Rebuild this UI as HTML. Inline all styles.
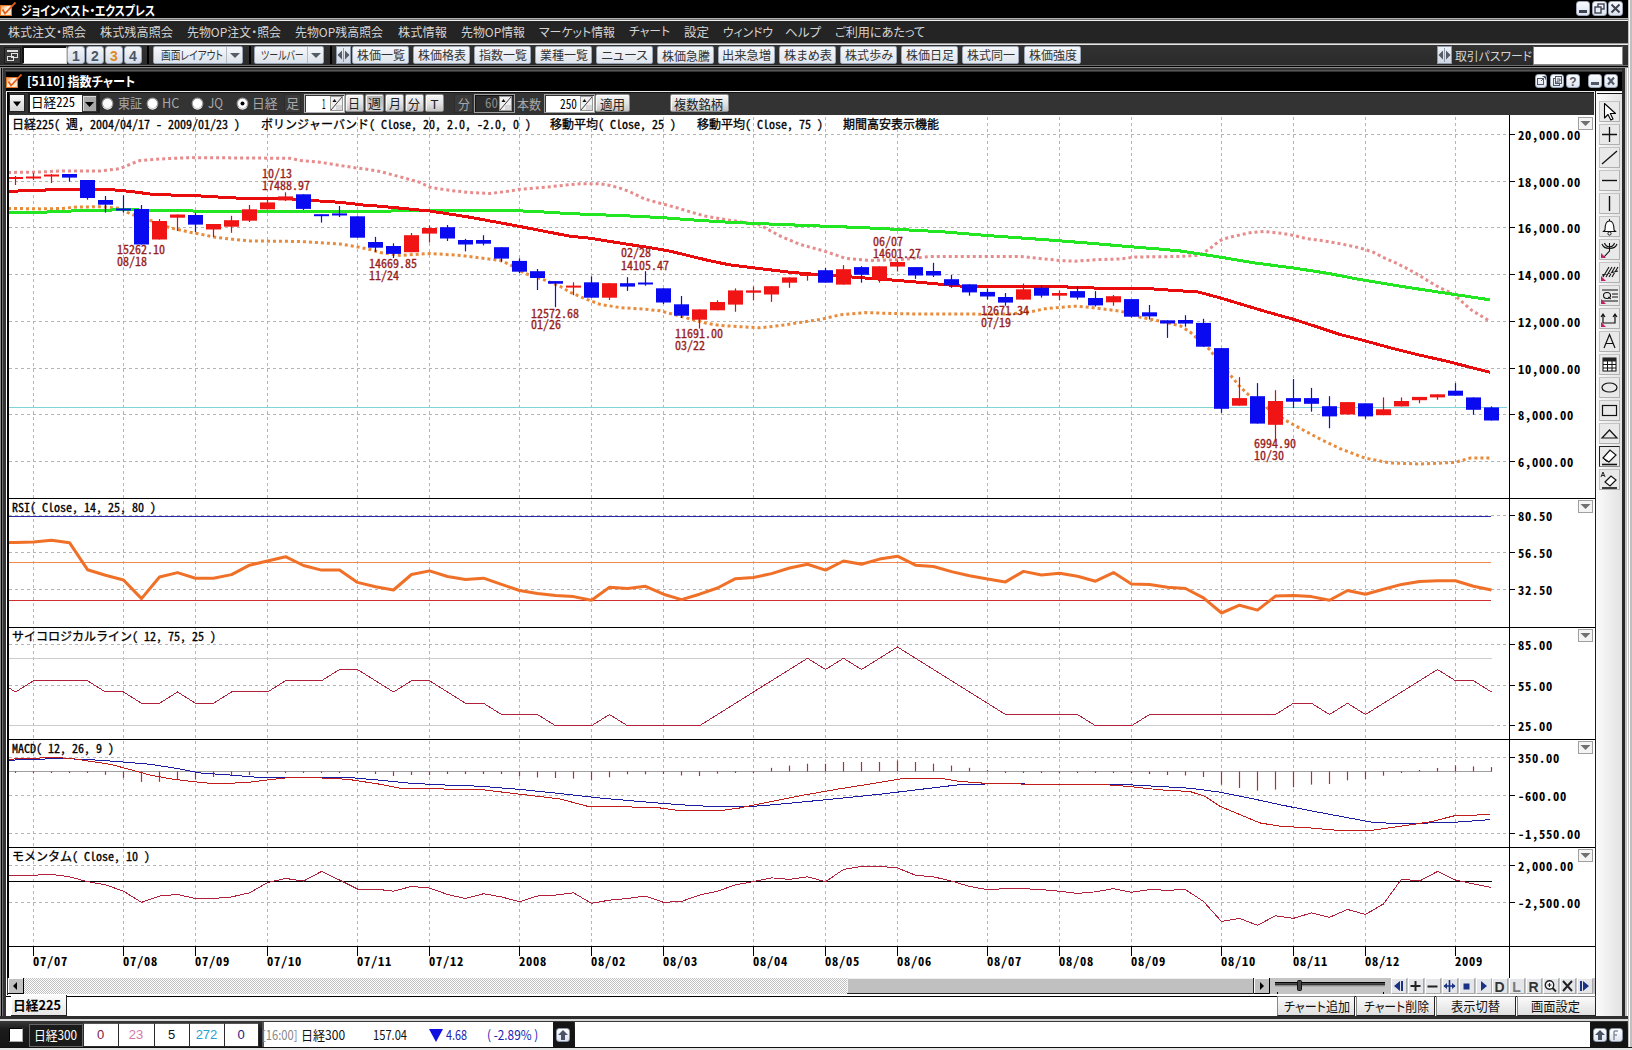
<!DOCTYPE html><html><head><meta charset="utf-8"><title>指数チャート</title><style>
*{margin:0;padding:0;box-sizing:border-box}
html,body{width:1632px;height:1050px;overflow:hidden;background:#c8c8c8}
body{position:relative;font-family:"Liberation Sans","Noto Sans CJK JP",sans-serif}
.r{position:absolute}
.t{position:absolute;white-space:nowrap;transform-origin:0 0;line-height:1;display:block}
.ui{font-family:"Noto Sans CJK JP","IPAGothic",sans-serif;font-size:12px;font-feature-settings:"palt";color:#d8d8d8}
.mg{font-family:"Noto Sans Mono CJK JP","IPAGothic",monospace;font-size:12px;color:#000}
svg{position:absolute;left:0;top:0}
</style></head><body>
<div class="r" style="left:0px;top:0px;width:1632px;height:1050px;background:#c8c8c8;"></div>
<div class="r" style="left:0px;top:0px;width:1628px;height:18px;background:#000;"></div>
<div class="r" style="left:0px;top:18px;width:1628px;height:1px;background:#b0b0b0;"></div>
<div class="r" style="left:0px;top:19px;width:1628px;height:1px;background:#707070;"></div>
<div class="r" style="left:0px;top:20px;width:1628px;height:1px;background:#f0f0f0;"></div>
<div class="r" style="left:0px;top:21px;width:1628px;height:22px;background:#242424;"></div>
<div class="r" style="left:0px;top:43px;width:1628px;height:1px;background:#9a9a9a;"></div>
<div class="r" style="left:0px;top:44px;width:1628px;height:1px;background:#e8e8e8;"></div>
<div class="r" style="left:0px;top:45px;width:1628px;height:21px;background:linear-gradient(#323232,#2a2a2a);"></div>
<div class="r" style="left:0px;top:65px;width:1628px;height:1px;background:#6a6a6a;"></div>
<div class="r" style="left:0px;top:66px;width:1628px;height:1px;background:#000;"></div>
<div class="r" style="left:0px;top:67px;width:1628px;height:1px;background:#8a8a8a;"></div>
<div class="r" style="left:1628px;top:0px;width:4px;height:1050px;background:#c0c0c0;"></div>
<div class="r" style="left:1629px;top:0px;width:1px;height:1050px;background:#fafafa;"></div>
<div class="r" style="left:0px;top:68px;width:1625px;height:951px;background:#333;"></div>
<div class="r" style="left:0px;top:68px;width:1px;height:951px;background:#909090;"></div>
<div class="r" style="left:1px;top:68px;width:1px;height:951px;background:#000;"></div>
<div class="r" style="left:2px;top:68px;width:1px;height:951px;background:#707070;"></div>
<div class="r" style="left:1625px;top:68px;width:2px;height:951px;background:#c4c4c4;"></div>
<div class="r" style="left:1627px;top:68px;width:1px;height:951px;background:#fff;"></div>
<div class="r" style="left:1628px;top:68px;width:1px;height:951px;background:#c4c4c4;"></div>
<div class="r" style="left:1629px;top:68px;width:1px;height:951px;background:#fff;"></div>
<div class="r" style="left:6px;top:91px;width:1px;height:925px;background:#fff;"></div>
<div class="r" style="left:5px;top:70px;width:1618px;height:1px;background:#555;"></div>
<div class="r" style="left:6px;top:72px;width:1616px;height:19px;background:#000;"></div>
<div class="r" style="left:6px;top:91px;width:1616px;height:1px;background:#e8e8e8;"></div>
<div class="r" style="left:8px;top:92px;width:1586px;height:23px;background:#333;"></div>
<div class="r" style="left:8px;top:92px;width:1586px;height:1px;background:#111;"></div>
<div class="r" style="left:1594px;top:92px;width:1px;height:23px;background:#f4f4f4;"></div>
<div class="r" style="left:0px;top:1016px;width:1628px;height:3px;background:#2e2e2e;"></div>
<div class="r" style="left:0px;top:1019px;width:1628px;height:2px;background:#d8d8d8;"></div>
<div class="r" style="left:0px;top:1021px;width:1628px;height:27px;background:linear-gradient(#3a3a3a,#1c1c1c 30%,#141414);"></div>
<div class="r" style="left:0px;top:1047px;width:1632px;height:1px;background:#111;"></div>
<div class="r" style="left:0px;top:1048px;width:1632px;height:2px;background:#e4e4e4;"></div>
<svg style="left:0px;top:2px" width="18" height="14" viewBox="0 0 18 14"><defs><linearGradient id="cg0" x1="0" y1="0" x2="1" y2="1"><stop offset="0" stop-color="#f08a3a"/><stop offset="0.45" stop-color="#fff4e8"/><stop offset="1" stop-color="#ffd9b0"/></linearGradient></defs><rect x="0.5" y="3.5" width="11" height="10" fill="url(#cg0)" stroke="#e07828"/><path d="M2.5 7.5 L5 11.5 L15.5 0.5" fill="none" stroke="#e8601a" stroke-width="1.8"/></svg>
<span class="t ui" style="left:21.00px;top:2.50px;transform:scaleX(0.8284);font-weight:bold;color:#fff;font-size:13px">ジョインベスト・エクスプレス</span>
<div class="r" style="left:1576px;top:1px;width:14px;height:15px;background:linear-gradient(#f8faff,#dde3ee);border-radius:3px;border:1px solid #9aa4b4"></div>
<svg style="left:1576px;top:1px" width="14" height="15" viewBox="0 0 14 15"><rect x="3" y="9" width="8" height="3" fill="#3c4250"/></svg>
<div class="r" style="left:1592px;top:1px;width:15px;height:15px;background:linear-gradient(#f8faff,#dde3ee);border-radius:3px;border:1px solid #9aa4b4"></div>
<svg style="left:1592px;top:1px" width="15" height="15" viewBox="0 0 15 15"><rect x="6" y="3" width="6" height="5" fill="none" stroke="#3c4250" stroke-width="1.4"/><rect x="3" y="6" width="6" height="6" fill="#e8ecf4" stroke="#3c4250" stroke-width="1.4"/></svg>
<div class="r" style="left:1608px;top:1px;width:15px;height:15px;background:linear-gradient(#f8faff,#dde3ee);border-radius:3px;border:1px solid #9aa4b4"></div>
<svg style="left:1608px;top:1px" width="15" height="15" viewBox="0 0 15 15"><path d="M3.5 3.5 L11.5 11.5 M11.5 3.5 L3.5 11.5" stroke="#3c4250" stroke-width="2"/></svg>
<span class="t ui" style="left:8.00px;top:25.50px;transform:scaleX(1.0000);color:#d4d4d4">株式注文・照会</span>
<span class="t ui" style="left:100.00px;top:25.50px;transform:scaleX(1.0139);color:#d4d4d4">株式残高照会</span>
<span class="t ui" style="left:187.00px;top:25.50px;transform:scaleX(0.9947);color:#d4d4d4">先物OP注文・照会</span>
<span class="t ui" style="left:295.00px;top:25.50px;transform:scaleX(0.9943);color:#d4d4d4">先物OP残高照会</span>
<span class="t ui" style="left:398.00px;top:25.50px;transform:scaleX(1.0210);color:#d4d4d4">株式情報</span>
<span class="t ui" style="left:461.00px;top:25.50px;transform:scaleX(0.9922);color:#d4d4d4">先物OP情報</span>
<span class="t ui" style="left:539.00px;top:25.50px;transform:scaleX(0.9939);color:#d4d4d4">マーケット情報</span>
<span class="t ui" style="left:629.00px;top:25.00px;transform:scaleX(0.9858);color:#d4d4d4">チャート</span>
<span class="t ui" style="left:684.00px;top:25.50px;transform:scaleX(1.0427);color:#d4d4d4">設定</span>
<span class="t ui" style="left:722.96px;top:25.50px;transform:scaleX(0.9809);color:#d4d4d4">ウィンドウ</span>
<span class="t ui" style="left:784.94px;top:25.50px;transform:scaleX(1.0490);color:#d4d4d4">ヘルプ</span>
<span class="t ui" style="left:834.98px;top:25.50px;transform:scaleX(1.0091);color:#d4d4d4">ご利用にあたって</span>
<div class="r" style="left:4px;top:47px;width:17px;height:17px;background:#3a3a3a;border:1px solid #1a1a1a"></div>
<svg style="left:4px;top:47px" width="17" height="17" viewBox="0 0 17 17"><rect x="3" y="3" width="11" height="2" fill="#e0e0e0"/><rect x="7.5" y="6.5" width="6" height="4" fill="none" stroke="#e0e0e0"/><rect x="3.5" y="9.5" width="6" height="4" fill="none" stroke="#e0e0e0"/></svg>
<div class="r" style="left:22px;top:46px;width:45px;height:18px;background:#fff;border:1px solid #d0d0d0;border-top:2px solid #111;border-left:2px solid #111"></div>
<div class="r" style="left:67px;top:46px;width:18px;height:18px;background:linear-gradient(#f4f7fb,#d6dde8);border-radius:3px;border:1px solid #9aa6b6"></div>
<span class="t" style="left:67px;top:48px;width:18px;text-align:center;font:bold 14px 'Liberation Sans',sans-serif;color:#4a5666">1</span>
<div class="r" style="left:86px;top:46px;width:18px;height:18px;background:linear-gradient(#f4f7fb,#d6dde8);border-radius:3px;border:1px solid #9aa6b6"></div>
<span class="t" style="left:86px;top:48px;width:18px;text-align:center;font:bold 14px 'Liberation Sans',sans-serif;color:#4a5666">2</span>
<div class="r" style="left:105px;top:46px;width:18px;height:18px;background:linear-gradient(#f4f7fb,#d6dde8);border-radius:3px;border:1px solid #9aa6b6"></div>
<span class="t" style="left:105px;top:48px;width:18px;text-align:center;font:bold 14px 'Liberation Sans',sans-serif;color:#e08a1e">3</span>
<div class="r" style="left:124px;top:46px;width:18px;height:18px;background:linear-gradient(#f4f7fb,#d6dde8);border-radius:3px;border:1px solid #9aa6b6"></div>
<span class="t" style="left:124px;top:48px;width:18px;text-align:center;font:bold 14px 'Liberation Sans',sans-serif;color:#4a5666">4</span>
<div class="r" style="left:147px;top:46px;width:2px;height:18px;background:#000;"></div>
<div class="r" style="left:249px;top:46px;width:2px;height:18px;background:#000;"></div>
<div class="r" style="left:330px;top:46px;width:2px;height:18px;background:#000;"></div>
<div class="r" style="left:153px;top:46px;width:90px;height:18px;background:linear-gradient(#f6f8fb,#dde3ea);border:1px solid #9aa6b6;border-radius:2px"></div>
<div class="r" style="left:226px;top:47px;width:1px;height:16px;background:#b4bcc8;"></div>
<svg style="left:227px;top:46px" width="16" height="18" viewBox="0 0 16 18"><path d="M3 7 L13 7 L8 12 Z" fill="#555c66"/></svg>
<span class="t ui" style="left:161.00px;top:49.00px;transform:scaleX(0.8112);color:#333">画面レイアウト</span>
<div class="r" style="left:254px;top:46px;width:70px;height:18px;background:linear-gradient(#f6f8fb,#dde3ea);border:1px solid #9aa6b6;border-radius:2px"></div>
<div class="r" style="left:307px;top:47px;width:1px;height:16px;background:#b4bcc8;"></div>
<svg style="left:308px;top:46px" width="16" height="18" viewBox="0 0 16 18"><path d="M3 7 L13 7 L8 12 Z" fill="#555c66"/></svg>
<span class="t ui" style="left:261.07px;top:49.00px;transform:scaleX(0.7465);color:#333">ツールバー</span>
<div class="r" style="left:336px;top:46px;width:15px;height:18px;background:linear-gradient(#eef2f8,#cfd7e3);border:1px solid #8e9aac"></div>
<svg style="left:336px;top:46px" width="15" height="18" viewBox="0 0 15 18"><path d="M1.5 9 L6 4.5 L6 13.5 Z M13.5 9 L9 4.5 L9 13.5 Z" fill="#555c66"/><rect x="7" y="2" width="1" height="14" fill="#8e9aac"/></svg>
<div class="r" style="left:352px;top:46px;width:57px;height:18px;background:linear-gradient(#f6f8fb,#dfe4ec);border:1px solid #9aa6b6;border-radius:2px"></div>
<span class="t ui" style="left:357.00px;top:49.00px;transform:scaleX(1.0001);color:#333">株価一覧</span>
<div class="r" style="left:413px;top:46px;width:57px;height:18px;background:linear-gradient(#f6f8fb,#dfe4ec);border:1px solid #9aa6b6;border-radius:2px"></div>
<span class="t ui" style="left:418.00px;top:49.00px;transform:scaleX(1.0001);color:#333">株価格表</span>
<div class="r" style="left:474px;top:46px;width:57px;height:18px;background:linear-gradient(#f6f8fb,#dfe4ec);border:1px solid #9aa6b6;border-radius:2px"></div>
<span class="t ui" style="left:479.00px;top:49.00px;transform:scaleX(1.0001);color:#333">指数一覧</span>
<div class="r" style="left:535px;top:46px;width:57px;height:18px;background:linear-gradient(#f6f8fb,#dfe4ec);border:1px solid #9aa6b6;border-radius:2px"></div>
<span class="t ui" style="left:540.00px;top:49.00px;transform:scaleX(1.0001);color:#333">業種一覧</span>
<div class="r" style="left:596px;top:46px;width:57px;height:18px;background:linear-gradient(#f6f8fb,#dfe4ec);border:1px solid #9aa6b6;border-radius:2px"></div>
<span class="t ui" style="left:601.00px;top:49.00px;transform:scaleX(1.0871);color:#333">ニュース</span>
<div class="r" style="left:657px;top:46px;width:57px;height:18px;background:linear-gradient(#f6f8fb,#dfe4ec);border:1px solid #9aa6b6;border-radius:2px"></div>
<span class="t ui" style="left:662.00px;top:49.50px;transform:scaleX(1.0001);color:#333">株価急騰</span>
<div class="r" style="left:718px;top:46px;width:57px;height:18px;background:linear-gradient(#f6f8fb,#dfe4ec);border:1px solid #9aa6b6;border-radius:2px"></div>
<span class="t ui" style="left:721.96px;top:49.00px;transform:scaleX(1.0223);color:#333">出来急増</span>
<div class="r" style="left:779px;top:46px;width:57px;height:18px;background:linear-gradient(#f6f8fb,#dfe4ec);border:1px solid #9aa6b6;border-radius:2px"></div>
<span class="t ui" style="left:784.00px;top:49.00px;transform:scaleX(1.0210);color:#333">株まめ表</span>
<div class="r" style="left:840px;top:46px;width:57px;height:18px;background:linear-gradient(#f6f8fb,#dfe4ec);border:1px solid #9aa6b6;border-radius:2px"></div>
<span class="t ui" style="left:845.00px;top:49.00px;transform:scaleX(1.0057);color:#333">株式歩み</span>
<div class="r" style="left:901px;top:46px;width:57px;height:18px;background:linear-gradient(#f6f8fb,#dfe4ec);border:1px solid #9aa6b6;border-radius:2px"></div>
<span class="t ui" style="left:906.00px;top:49.00px;transform:scaleX(1.0001);color:#333">株価日足</span>
<div class="r" style="left:962px;top:46px;width:57px;height:18px;background:linear-gradient(#f6f8fb,#dfe4ec);border:1px solid #9aa6b6;border-radius:2px"></div>
<span class="t ui" style="left:967.00px;top:49.00px;transform:scaleX(1.0001);color:#333">株式同一</span>
<div class="r" style="left:1024px;top:46px;width:57px;height:18px;background:linear-gradient(#f6f8fb,#dfe4ec);border:1px solid #9aa6b6;border-radius:2px"></div>
<span class="t ui" style="left:1029.00px;top:49.00px;transform:scaleX(1.0001);color:#333">株価強度</span>
<div class="r" style="left:1437px;top:46px;width:15px;height:18px;background:linear-gradient(#eef2f8,#cfd7e3);border:1px solid #8e9aac"></div>
<svg style="left:1437px;top:46px" width="15" height="18" viewBox="0 0 15 18"><path d="M1.5 9 L6 4.5 L6 13.5 Z M13.5 9 L9 4.5 L9 13.5 Z" fill="#555c66"/><rect x="7" y="2" width="1" height="14" fill="#8e9aac"/></svg>
<span class="t ui" style="left:1455.00px;top:49.50px;transform:scaleX(0.9862);color:#d4d4d4">取引パスワード</span>
<div class="r" style="left:1533px;top:46px;width:90px;height:19px;background:#fff;border:1px solid #888;border-top-color:#444"></div>
<svg style="left:6px;top:74px" width="18" height="14" viewBox="0 0 18 14"><defs><linearGradient id="cg6" x1="0" y1="0" x2="1" y2="1"><stop offset="0" stop-color="#f08a3a"/><stop offset="0.45" stop-color="#fff4e8"/><stop offset="1" stop-color="#ffd9b0"/></linearGradient></defs><rect x="0.5" y="3.5" width="11" height="10" fill="url(#cg6)" stroke="#e07828"/><path d="M2.5 7.5 L5 11.5 L15.5 0.5" fill="none" stroke="#e8601a" stroke-width="1.8"/></svg>
<span class="t ui" style="left:26.97px;top:73.50px;transform:scaleX(0.9320);font-weight:bold;color:#fff;font-size:13px">[5110] 指数チャート</span>
<div class="r" style="left:1535px;top:74px;width:12px;height:14px;background:linear-gradient(#fafcff,#dfe5ef);border-radius:3px;border:1px solid #98a2b2"></div>
<svg style="left:1535px;top:74px" width="12" height="14" viewBox="0 0 12 14"><rect x="2.5" y="4.5" width="6" height="6" fill="none" stroke="#505868"/><path d="M6 7 L10 3 M7.5 2.5 L10.5 2.5 L10.5 5.5" fill="none" stroke="#505868"/></svg>
<div class="r" style="left:1550px;top:74px;width:14px;height:14px;background:linear-gradient(#fafcff,#dfe5ef);border-radius:3px;border:1px solid #98a2b2"></div>
<svg style="left:1550px;top:74px" width="14" height="14" viewBox="0 0 14 14"><rect x="3.5" y="4.5" width="6" height="7" fill="none" stroke="#505868"/><rect x="5.5" y="2.5" width="6" height="7" fill="#eef2f8" stroke="#505868"/><path d="M7 5 h3 v2 h-3 v2 h3" fill="none" stroke="#505868"/></svg>
<div class="r" style="left:1566px;top:74px;width:14px;height:14px;background:linear-gradient(#fafcff,#dfe5ef);border-radius:3px;border:1px solid #98a2b2"></div>
<svg style="left:1566px;top:74px" width="14" height="14" viewBox="0 0 14 14"><text x="7" y="12" text-anchor="middle" font-family="Liberation Sans" font-weight="bold" font-size="12" fill="#505868">?</text></svg>
<div class="r" style="left:1588px;top:74px;width:14px;height:14px;background:linear-gradient(#fafcff,#dfe5ef);border-radius:3px;border:1px solid #98a2b2"></div>
<svg style="left:1588px;top:74px" width="14" height="14" viewBox="0 0 14 14"><rect x="3" y="8" width="8" height="3" fill="#505868"/></svg>
<div class="r" style="left:1604px;top:74px;width:14px;height:14px;background:linear-gradient(#fafcff,#dfe5ef);border-radius:3px;border:1px solid #98a2b2"></div>
<svg style="left:1604px;top:74px" width="14" height="14" viewBox="0 0 14 14"><path d="M4 3.5 L10 10.5 M10 3.5 L4 10.5" stroke="#505868" stroke-width="2"/></svg>
<div class="r" style="left:9px;top:94px;width:16px;height:18px;background:linear-gradient(#fafafa,#d2d2d2);border:1px solid #222"></div>
<svg style="left:9px;top:94px" width="16" height="18" viewBox="0 0 16 18"><path d="M4 7.5 L12 7.5 L8 12.5 Z" fill="#000"/></svg>
<div class="r" style="left:28px;top:93px;width:72px;height:20px;background:#1c1c1c;"></div>
<div class="r" style="left:30px;top:95px;width:53px;height:17px;background:#fff;"></div>
<span class="t mg" style="left:31.00px;top:95.00px;transform:scaleX(0.9682);font-size:13px">日経225</span>
<div class="r" style="left:82px;top:95px;width:15px;height:17px;background:#a8a8a8;border:1px solid #333;box-shadow:inset 1px 1px 0 #d8d8d8"></div>
<svg style="left:82px;top:95px" width="15" height="17" viewBox="0 0 15 17"><path d="M3 7 L12 7 L7.5 12 Z" fill="#000"/></svg>
<svg style="left:101px;top:97px" width="13" height="13" viewBox="0 0 13 13"><circle cx="6.5" cy="6.5" r="5.3" fill="#fff" stroke="#999" stroke-width="1.2"/><path d="M2.4 10.2 A5.3 5.3 0 0 0 10.6 10.2" fill="none" stroke="#e8e8e8" stroke-width="1.2"/></svg>
<span class="t ui" style="left:118.00px;top:95.50px;transform:scaleX(0.9243);color:#a8a8a8;font-size:13px">東証</span>
<svg style="left:146px;top:97px" width="13" height="13" viewBox="0 0 13 13"><circle cx="6.5" cy="6.5" r="5.3" fill="#fff" stroke="#999" stroke-width="1.2"/><path d="M2.4 10.2 A5.3 5.3 0 0 0 10.6 10.2" fill="none" stroke="#e8e8e8" stroke-width="1.2"/></svg>
<span class="t ui" style="left:161.85px;top:96.00px;transform:scaleX(0.9742);color:#a8a8a8;font-size:13px">HC</span>
<svg style="left:191px;top:97px" width="13" height="13" viewBox="0 0 13 13"><circle cx="6.5" cy="6.5" r="5.3" fill="#fff" stroke="#999" stroke-width="1.2"/><path d="M2.4 10.2 A5.3 5.3 0 0 0 10.6 10.2" fill="none" stroke="#e8e8e8" stroke-width="1.2"/></svg>
<span class="t ui" style="left:208.00px;top:95.50px;transform:scaleX(0.9077);color:#a8a8a8;font-size:13px">JQ</span>
<svg style="left:236px;top:97px" width="13" height="13" viewBox="0 0 13 13"><circle cx="6.5" cy="6.5" r="5.3" fill="#fff" stroke="#999" stroke-width="1.2"/><path d="M2.4 10.2 A5.3 5.3 0 0 0 10.6 10.2" fill="none" stroke="#e8e8e8" stroke-width="1.2"/><circle cx="6.5" cy="6.5" r="2" fill="#000"/></svg>
<span class="t ui" style="left:251.68px;top:95.50px;transform:scaleX(0.9791);color:#a8a8a8;font-size:13px">日経</span>
<div class="r" style="left:284px;top:94px;width:17px;height:19px;background:#3a3a3a;border:1px solid #2c2c2c"></div>
<span class="t ui" style="left:286.00px;top:96.00px;transform:scaleX(0.9988);color:#a8a8a8;font-size:13px">足</span>
<div class="r" style="left:304px;top:94px;width:41px;height:19px;background:#fff;border:1px solid #b0b0b0;box-shadow:inset 1px 1px 0 #333"></div>
<span class="t mg" style="left:322.00px;top:96.50px;transform:scaleX(0.5384);font-size:13px">1</span>
<svg style="left:330px;top:96px" width="13" height="15" viewBox="0 0 13 15"><rect x="0.5" y="0.5" width="12" height="14" fill="#f0f0f0" stroke="#999"/><path d="M1 14 L12 1" stroke="#444"/><path d="M2.5 6 L4.5 3 L6.5 6 Z" fill="#111"/><rect x="6" y="9" width="6" height="5" fill="#d8d8d8"/></svg>
<div class="r" style="left:345px;top:94px;width:19px;height:18px;background:linear-gradient(#f6f6f6,#e4e4e4 50%,#c4c4c4);border:1px solid #8a8a8a;border-radius:2px;box-shadow:inset 1px 1px 0 rgba(255,255,255,.8)"></div>
<span class="t ui" style="left:348.00px;top:95.50px;transform:scaleX(0.9220);color:#222;font-size:13px">日</span>
<div class="r" style="left:365px;top:94px;width:19px;height:18px;background:linear-gradient(#b4b4b4,#d4d4d4);border:1px solid #8a8a8a;border-radius:2px;box-shadow:inset 1px 1px 0 rgba(255,255,255,.8)"></div>
<span class="t ui" style="left:368.00px;top:96.00px;transform:scaleX(1.0058);color:#222;font-size:13px">週</span>
<div class="r" style="left:385px;top:94px;width:19px;height:18px;background:linear-gradient(#f6f6f6,#e4e4e4 50%,#c4c4c4);border:1px solid #8a8a8a;border-radius:2px;box-shadow:inset 1px 1px 0 rgba(255,255,255,.8)"></div>
<span class="t ui" style="left:389.00px;top:96.00px;transform:scaleX(0.9220);color:#222;font-size:13px">月</span>
<div class="r" style="left:405px;top:94px;width:19px;height:18px;background:linear-gradient(#f6f6f6,#e4e4e4 50%,#c4c4c4);border:1px solid #8a8a8a;border-radius:2px;box-shadow:inset 1px 1px 0 rgba(255,255,255,.8)"></div>
<span class="t ui" style="left:408.00px;top:96.50px;transform:scaleX(0.9220);color:#222;font-size:13px">分</span>
<div class="r" style="left:425px;top:94px;width:19px;height:18px;background:linear-gradient(#f6f6f6,#e4e4e4 50%,#c4c4c4);border:1px solid #8a8a8a;border-radius:2px;box-shadow:inset 1px 1px 0 rgba(255,255,255,.8)"></div>
<span class="t" style="left:425px;top:97px;width:19px;text-align:center;font:13px 'Liberation Sans',sans-serif;color:#222">T</span>
<div class="r" style="left:454px;top:94px;width:19px;height:19px;background:#3a3a3a;border:1px solid #2c2c2c"></div>
<span class="t ui" style="left:458.00px;top:97.00px;transform:scaleX(0.9156);color:#a8a8a8;font-size:13px">分</span>
<div class="r" style="left:474px;top:94px;width:41px;height:19px;background:#2c2c2c;border:1px solid #a0a0a0;box-shadow:inset 1px 1px 0 #111"></div>
<span class="t mg" style="left:485.00px;top:96.00px;transform:scaleX(1.0000);color:#8a8a8a;font-size:13px">60</span>
<svg style="left:499px;top:96px" width="13" height="15" viewBox="0 0 13 15"><rect x="0.5" y="0.5" width="12" height="14" fill="#f0f0f0" stroke="#999"/><path d="M1 14 L12 1" stroke="#444"/><path d="M2.5 6 L4.5 3 L6.5 6 Z" fill="#111"/><rect x="6" y="9" width="6" height="5" fill="#d8d8d8"/></svg>
<span class="t ui" style="left:517.00px;top:96.50px;transform:scaleX(0.9225);color:#a8a8a8;font-size:13px">本数</span>
<div class="r" style="left:544px;top:94px;width:51px;height:19px;background:#fff;border:1px solid #a0a0a0;box-shadow:inset 1px 1px 0 #333"></div>
<span class="t mg" style="left:560.00px;top:96.50px;transform:scaleX(0.8688);font-size:13px">250</span>
<svg style="left:580px;top:96px" width="13" height="15" viewBox="0 0 13 15"><rect x="0.5" y="0.5" width="12" height="14" fill="#f0f0f0" stroke="#999"/><path d="M1 14 L12 1" stroke="#444"/><path d="M2.5 6 L4.5 3 L6.5 6 Z" fill="#111"/><rect x="6" y="9" width="6" height="5" fill="#d8d8d8"/></svg>
<div class="r" style="left:595px;top:94px;width:35px;height:18px;background:linear-gradient(#f6f6f6,#e4e4e4 50%,#c4c4c4);border:1px solid #8a8a8a;border-radius:2px;box-shadow:inset 1px 1px 0 rgba(255,255,255,.8)"></div>
<span class="t ui" style="left:600.00px;top:96.50px;transform:scaleX(0.9644);color:#222;font-size:13px">適用</span>
<div class="r" style="left:670px;top:94px;width:59px;height:18px;background:linear-gradient(#f6f6f6,#e4e4e4 50%,#c4c4c4);border:1px solid #8a8a8a;border-radius:2px;box-shadow:inset 1px 1px 0 rgba(255,255,255,.8)"></div>
<span class="t ui" style="left:674.00px;top:96.50px;transform:scaleX(0.9420);color:#222;font-size:13px">複数銘柄</span>
<div class="r" style="left:8px;top:115px;width:1587px;height:863px;background:#fff;"></div>
<svg width="1632" height="1050" viewBox="0 0 1632 1050"><style>.lb{font-family:"Noto Sans Mono CJK JP","IPAGothic",monospace;font-size:12px;fill:#981c1c;stroke:#981c1c;stroke-width:0.3px}.ax{font-family:"Noto Sans Mono CJK JP","IPAGothic",monospace;font-size:12.5px;font-weight:bold;fill:#000;letter-spacing:0.75px}.hd{font-family:"Noto Sans Mono CJK JP","IPAGothic",monospace;font-size:12px;fill:#000;stroke:#000;stroke-width:0.3px}</style><line x1="33.5" y1="117" x2="33.5" y2="946" stroke="#b4b4b4" stroke-width="1" stroke-dasharray="3 3"/><line x1="123.5" y1="117" x2="123.5" y2="946" stroke="#b4b4b4" stroke-width="1" stroke-dasharray="3 3"/><line x1="195.5" y1="117" x2="195.5" y2="946" stroke="#b4b4b4" stroke-width="1" stroke-dasharray="3 3"/><line x1="267.5" y1="117" x2="267.5" y2="946" stroke="#b4b4b4" stroke-width="1" stroke-dasharray="3 3"/><line x1="357.5" y1="117" x2="357.5" y2="946" stroke="#b4b4b4" stroke-width="1" stroke-dasharray="3 3"/><line x1="429.5" y1="117" x2="429.5" y2="946" stroke="#b4b4b4" stroke-width="1" stroke-dasharray="3 3"/><line x1="519.5" y1="117" x2="519.5" y2="946" stroke="#b4b4b4" stroke-width="1" stroke-dasharray="3 3"/><line x1="591.5" y1="117" x2="591.5" y2="946" stroke="#b4b4b4" stroke-width="1" stroke-dasharray="3 3"/><line x1="663.5" y1="117" x2="663.5" y2="946" stroke="#b4b4b4" stroke-width="1" stroke-dasharray="3 3"/><line x1="753.5" y1="117" x2="753.5" y2="946" stroke="#b4b4b4" stroke-width="1" stroke-dasharray="3 3"/><line x1="825.5" y1="117" x2="825.5" y2="946" stroke="#b4b4b4" stroke-width="1" stroke-dasharray="3 3"/><line x1="897.5" y1="117" x2="897.5" y2="946" stroke="#b4b4b4" stroke-width="1" stroke-dasharray="3 3"/><line x1="987.5" y1="117" x2="987.5" y2="946" stroke="#b4b4b4" stroke-width="1" stroke-dasharray="3 3"/><line x1="1059.5" y1="117" x2="1059.5" y2="946" stroke="#b4b4b4" stroke-width="1" stroke-dasharray="3 3"/><line x1="1131.5" y1="117" x2="1131.5" y2="946" stroke="#b4b4b4" stroke-width="1" stroke-dasharray="3 3"/><line x1="1221.5" y1="117" x2="1221.5" y2="946" stroke="#b4b4b4" stroke-width="1" stroke-dasharray="3 3"/><line x1="1293.5" y1="117" x2="1293.5" y2="946" stroke="#b4b4b4" stroke-width="1" stroke-dasharray="3 3"/><line x1="1365.5" y1="117" x2="1365.5" y2="946" stroke="#b4b4b4" stroke-width="1" stroke-dasharray="3 3"/><line x1="1455.5" y1="117" x2="1455.5" y2="946" stroke="#b4b4b4" stroke-width="1" stroke-dasharray="3 3"/><line x1="9" y1="134.5" x2="1507" y2="134.5" stroke="#b4b4b4" stroke-width="1" stroke-dasharray="3 3"/><line x1="9" y1="181.5" x2="1507" y2="181.5" stroke="#b4b4b4" stroke-width="1" stroke-dasharray="3 3"/><line x1="9" y1="227.5" x2="1507" y2="227.5" stroke="#b4b4b4" stroke-width="1" stroke-dasharray="3 3"/><line x1="9" y1="274.5" x2="1507" y2="274.5" stroke="#b4b4b4" stroke-width="1" stroke-dasharray="3 3"/><line x1="9" y1="321.5" x2="1507" y2="321.5" stroke="#b4b4b4" stroke-width="1" stroke-dasharray="3 3"/><line x1="9" y1="368.5" x2="1507" y2="368.5" stroke="#b4b4b4" stroke-width="1" stroke-dasharray="3 3"/><line x1="9" y1="414.5" x2="1507" y2="414.5" stroke="#b4b4b4" stroke-width="1" stroke-dasharray="3 3"/><line x1="9" y1="461.5" x2="1507" y2="461.5" stroke="#b4b4b4" stroke-width="1" stroke-dasharray="3 3"/><line x1="9" y1="407.5" x2="1507" y2="407.5" stroke="#7fd4d8" stroke-width="1"/><polyline points="8.00,172.50 40.00,172.00 60.00,171.00 100.00,171.00 120.00,168.70 130.00,164.30 140.00,160.50 160.00,159.00 190.00,157.60 290.00,158.30 300.00,160.40 320.00,162.30 340.00,165.40 355.00,167.80 370.00,169.70 380.00,171.50 400.00,176.80 420.00,182.40 430.00,187.30 450.00,190.40 470.00,192.50 490.00,193.50 510.00,191.00 520.00,189.20 545.00,187.30 570.00,184.60 580.00,183.80 600.00,183.80 610.00,185.40 620.00,188.10 630.00,191.80 645.00,199.10 660.00,203.20 675.00,207.20 690.00,211.80 705.00,216.10 720.00,218.60 740.00,221.80 760.00,225.00 780.00,236.00 800.00,244.40 825.00,251.30 845.00,258.20 870.00,260.50 900.00,259.70 930.00,256.50 1020.00,256.40 1045.00,259.00 1060.00,260.50 1075.00,261.30 1095.00,259.70 1120.00,259.00 1135.00,257.00 1180.00,256.50 1198.60,255.30 1208.50,249.70 1218.40,241.70 1222.70,239.20 1234.50,236.10 1251.80,232.40 1264.20,231.50 1282.70,233.40 1293.90,235.50 1306.30,238.60 1324.80,241.00 1342.10,244.10 1360.00,247.90 1373.00,252.10 1384.30,257.90 1395.70,262.90 1407.10,268.60 1418.60,275.00 1430.00,282.10 1440.00,287.90 1451.40,292.90 1460.00,300.00 1471.40,310.00 1482.90,317.10 1490.00,321.40" fill="none" stroke="#e68c8c" stroke-width="3" stroke-linejoin="round" stroke-dasharray="3 3" /><polyline points="8.00,208.40 42.00,208.90 62.00,208.40 78.00,207.00 100.00,206.80 120.00,208.40 130.00,213.70 150.00,220.40 170.00,227.80 190.00,232.20 200.00,234.10 215.00,237.20 230.00,239.00 250.00,240.90 300.00,241.50 320.00,242.70 340.00,244.00 355.00,246.40 370.00,249.50 380.00,252.50 400.00,255.40 430.00,253.50 460.00,255.40 480.00,257.90 500.00,260.40 510.00,264.70 525.00,273.40 545.00,280.20 560.00,286.30 570.00,292.20 585.00,298.70 600.00,304.30 620.00,307.60 645.00,309.20 660.00,310.80 675.00,314.80 690.00,318.90 705.00,322.90 720.00,325.40 740.00,326.70 760.00,327.80 780.00,325.60 800.00,322.50 820.00,319.50 840.00,314.90 865.00,312.60 890.00,313.40 920.00,314.10 940.00,313.90 990.00,314.20 1010.00,314.00 1030.00,311.90 1045.00,308.80 1060.00,307.30 1075.00,306.20 1090.00,307.30 1105.00,309.30 1120.00,311.10 1130.00,313.40 1140.00,317.20 1160.00,321.10 1180.00,325.70 1190.00,331.90 1210.00,349.80 1215.00,356.90 1230.00,374.80 1240.00,386.70 1250.00,396.20 1285.00,420.00 1300.00,428.30 1320.00,439.00 1340.00,448.60 1365.00,458.10 1390.00,462.90 1420.00,464.00 1455.00,462.40 1470.00,458.10 1490.00,458.10" fill="none" stroke="#e88c3c" stroke-width="3" stroke-linejoin="round" stroke-dasharray="3 3" /><polyline points="8.00,212.73 42.00,212.23 78.00,210.73 125.00,209.73 150.00,210.23 190.00,210.83 205.00,211.73 380.00,211.73 400.00,210.43 510.00,210.43 540.00,211.73 570.00,213.63 620.00,215.53 660.00,217.53 700.00,220.43 730.00,222.33 760.00,223.63 800.00,225.23 860.00,227.53 900.00,229.53 940.00,231.63 987.00,235.53 1040.00,239.33 1080.00,242.43 1131.00,246.73 1160.00,249.13 1180.00,250.93 1221.50,257.33 1254.30,262.93 1293.30,267.93 1328.50,273.43 1360.00,279.53 1402.90,286.63 1445.70,293.13 1490.00,299.83" fill="none" stroke="#22e622" stroke-width="3" stroke-linejoin="round"  shape-rendering="crispEdges"/><polyline points="8.00,191.23 10.00,191.33 40.00,190.13 80.00,189.23 110.00,189.53 130.00,191.33 150.00,194.03 180.00,195.43 190.00,195.33 205.00,196.23 222.00,197.23 240.00,198.23 285.00,198.43 310.00,200.53 330.00,201.53 350.00,203.33 365.00,205.23 380.00,206.23 430.00,211.03 470.00,217.23 520.00,226.53 570.00,236.23 590.00,238.23 610.00,241.43 630.00,244.63 650.00,247.63 670.00,251.13 690.00,256.03 710.00,260.83 730.00,264.93 760.00,268.63 790.00,272.23 820.00,274.83 850.00,276.83 880.00,279.13 900.00,280.63 930.00,283.23 960.00,286.03 1000.00,286.73 1060.00,286.73 1100.00,288.23 1150.00,288.73 1180.00,290.83 1198.60,292.03 1221.50,298.23 1241.90,304.43 1266.60,311.83 1293.30,319.23 1316.20,326.63 1340.90,334.73 1360.00,339.53 1388.60,347.33 1417.10,354.53 1445.70,360.93 1490.00,372.33" fill="none" stroke="#e80c0c" stroke-width="3" stroke-linejoin="round"  shape-rendering="crispEdges"/><line x1="15.5" y1="176.0" x2="15.5" y2="185.0" stroke="#d01010" stroke-width="1.2"/><rect x="9.0" y="177.0" width="14.0" height="2.0" fill="#f01414"/><line x1="33.5" y1="173.0" x2="33.5" y2="180.0" stroke="#d01010" stroke-width="1.2"/><rect x="26.0" y="176.5" width="15.0" height="2.0" fill="#f01414"/><line x1="51.5" y1="174.0" x2="51.5" y2="183.0" stroke="#d01010" stroke-width="1.2"/><rect x="44.0" y="174.5" width="15.0" height="2.0" fill="#f01414"/><line x1="69.5" y1="174.0" x2="69.5" y2="181.7" stroke="#1010d0" stroke-width="1.2"/><rect x="62.0" y="174.0" width="15.0" height="3.6" fill="#0a0af0"/><line x1="87.5" y1="180.0" x2="87.5" y2="199.7" stroke="#1010d0" stroke-width="1.2"/><rect x="80.0" y="180.0" width="15.0" height="18.0" fill="#0a0af0"/><line x1="105.5" y1="196.0" x2="105.5" y2="212.6" stroke="#1010d0" stroke-width="1.2"/><rect x="98.0" y="200.0" width="15.0" height="4.7" fill="#0a0af0"/><line x1="123.5" y1="195.3" x2="123.5" y2="212.6" stroke="#1010d0" stroke-width="1.2"/><rect x="116.0" y="208.5" width="15.0" height="2.0" fill="#0a0af0"/><line x1="141.5" y1="205.0" x2="141.5" y2="244.5" stroke="#1010d0" stroke-width="1.2"/><rect x="134.0" y="209.0" width="15.0" height="35.5" fill="#0a0af0"/><line x1="159.5" y1="219.0" x2="159.5" y2="239.5" stroke="#d01010" stroke-width="1.2"/><rect x="152.0" y="221.0" width="15.0" height="18.5" fill="#f01414"/><line x1="177.5" y1="214.5" x2="177.5" y2="231.0" stroke="#d01010" stroke-width="1.2"/><rect x="170.0" y="214.5" width="15.0" height="3.2" fill="#f01414"/><line x1="195.5" y1="213.0" x2="195.5" y2="232.0" stroke="#1010d0" stroke-width="1.2"/><rect x="188.0" y="215.0" width="15.0" height="9.6" fill="#0a0af0"/><line x1="213.5" y1="224.0" x2="213.5" y2="237.0" stroke="#d01010" stroke-width="1.2"/><rect x="206.0" y="224.0" width="15.0" height="5.5" fill="#f01414"/><line x1="231.5" y1="215.8" x2="231.5" y2="232.8" stroke="#d01010" stroke-width="1.2"/><rect x="224.0" y="220.2" width="15.0" height="6.5" fill="#f01414"/><line x1="249.5" y1="205.0" x2="249.5" y2="222.0" stroke="#d01010" stroke-width="1.2"/><rect x="242.0" y="209.3" width="15.0" height="11.4" fill="#f01414"/><line x1="267.5" y1="200.0" x2="267.5" y2="209.3" stroke="#d01010" stroke-width="1.2"/><rect x="260.0" y="202.4" width="15.0" height="6.9" fill="#f01414"/><line x1="285.5" y1="192.3" x2="285.5" y2="201.0" stroke="#d01010" stroke-width="1.2"/><rect x="278.0" y="196.4" width="15.0" height="4.0" fill="#f01414"/><line x1="303.5" y1="194.3" x2="303.5" y2="210.0" stroke="#1010d0" stroke-width="1.2"/><rect x="296.0" y="194.3" width="15.0" height="14.6" fill="#0a0af0"/><line x1="321.5" y1="214.2" x2="321.5" y2="222.6" stroke="#1010d0" stroke-width="1.2"/><rect x="314.0" y="214.2" width="15.0" height="2.0" fill="#0a0af0"/><line x1="339.5" y1="206.0" x2="339.5" y2="217.0" stroke="#1010d0" stroke-width="1.2"/><rect x="332.0" y="213.4" width="15.0" height="2.1" fill="#0a0af0"/><line x1="357.5" y1="216.3" x2="357.5" y2="237.7" stroke="#1010d0" stroke-width="1.2"/><rect x="350.0" y="216.3" width="15.0" height="21.4" fill="#0a0af0"/><line x1="375.5" y1="236.9" x2="375.5" y2="251.8" stroke="#1010d0" stroke-width="1.2"/><rect x="368.0" y="242.0" width="15.0" height="5.7" fill="#0a0af0"/><line x1="393.5" y1="243.3" x2="393.5" y2="258.0" stroke="#1010d0" stroke-width="1.2"/><rect x="386.0" y="246.0" width="15.0" height="7.9" fill="#0a0af0"/><line x1="411.5" y1="233.0" x2="411.5" y2="252.2" stroke="#d01010" stroke-width="1.2"/><rect x="404.0" y="235.2" width="15.0" height="17.0" fill="#f01414"/><line x1="429.5" y1="225.5" x2="429.5" y2="242.5" stroke="#d01010" stroke-width="1.2"/><rect x="422.0" y="228.0" width="15.0" height="5.6" fill="#f01414"/><line x1="447.5" y1="225.0" x2="447.5" y2="241.0" stroke="#1010d0" stroke-width="1.2"/><rect x="440.0" y="227.2" width="15.0" height="11.3" fill="#0a0af0"/><line x1="465.5" y1="238.8" x2="465.5" y2="251.4" stroke="#1010d0" stroke-width="1.2"/><rect x="458.0" y="240.0" width="15.0" height="4.5" fill="#0a0af0"/><line x1="483.5" y1="235.2" x2="483.5" y2="245.4" stroke="#1010d0" stroke-width="1.2"/><rect x="476.0" y="240.0" width="15.0" height="3.7" fill="#0a0af0"/><line x1="501.5" y1="247.2" x2="501.5" y2="261.7" stroke="#1010d0" stroke-width="1.2"/><rect x="494.0" y="247.2" width="15.0" height="11.4" fill="#0a0af0"/><line x1="519.5" y1="258.3" x2="519.5" y2="273.0" stroke="#1010d0" stroke-width="1.2"/><rect x="512.0" y="260.9" width="15.0" height="10.8" fill="#0a0af0"/><line x1="537.5" y1="269.0" x2="537.5" y2="290.0" stroke="#1010d0" stroke-width="1.2"/><rect x="530.0" y="271.2" width="15.0" height="6.8" fill="#0a0af0"/><line x1="555.5" y1="281.1" x2="555.5" y2="307.2" stroke="#1010d0" stroke-width="1.2"/><rect x="548.0" y="281.1" width="15.0" height="2.6" fill="#0a0af0"/><line x1="573.5" y1="282.3" x2="573.5" y2="295.2" stroke="#d01010" stroke-width="1.2"/><rect x="566.0" y="285.6" width="15.0" height="2.0" fill="#f01414"/><line x1="591.5" y1="276.3" x2="591.5" y2="297.7" stroke="#1010d0" stroke-width="1.2"/><rect x="584.0" y="282.3" width="15.0" height="15.4" fill="#0a0af0"/><line x1="609.5" y1="283.2" x2="609.5" y2="300.0" stroke="#d01010" stroke-width="1.2"/><rect x="602.0" y="283.2" width="15.0" height="14.5" fill="#f01414"/><line x1="627.5" y1="277.2" x2="627.5" y2="290.9" stroke="#1010d0" stroke-width="1.2"/><rect x="620.0" y="283.2" width="15.0" height="3.4" fill="#0a0af0"/><line x1="645.5" y1="271.2" x2="645.5" y2="285.7" stroke="#1010d0" stroke-width="1.2"/><rect x="638.0" y="282.5" width="15.0" height="2.0" fill="#0a0af0"/><line x1="663.5" y1="288.3" x2="663.5" y2="304.0" stroke="#1010d0" stroke-width="1.2"/><rect x="656.0" y="288.3" width="15.0" height="14.2" fill="#0a0af0"/><line x1="681.5" y1="296.0" x2="681.5" y2="318.0" stroke="#1010d0" stroke-width="1.2"/><rect x="674.0" y="304.3" width="15.0" height="11.4" fill="#0a0af0"/><line x1="699.5" y1="309.4" x2="699.5" y2="328.6" stroke="#d01010" stroke-width="1.2"/><rect x="692.0" y="309.4" width="15.0" height="10.3" fill="#f01414"/><line x1="717.5" y1="300.3" x2="717.5" y2="310.3" stroke="#d01010" stroke-width="1.2"/><rect x="710.0" y="302.0" width="15.0" height="8.3" fill="#f01414"/><line x1="735.5" y1="288.4" x2="735.5" y2="311.8" stroke="#d01010" stroke-width="1.2"/><rect x="728.0" y="290.4" width="15.0" height="14.2" fill="#f01414"/><line x1="753.5" y1="286.5" x2="753.5" y2="300.3" stroke="#d01010" stroke-width="1.2"/><rect x="746.0" y="290.4" width="15.0" height="2.3" fill="#f01414"/><line x1="771.5" y1="286.2" x2="771.5" y2="301.9" stroke="#d01010" stroke-width="1.2"/><rect x="764.0" y="286.2" width="15.0" height="8.3" fill="#f01414"/><line x1="789.5" y1="277.4" x2="789.5" y2="287.8" stroke="#d01010" stroke-width="1.2"/><rect x="782.0" y="277.4" width="15.0" height="5.3" fill="#f01414"/><line x1="807.5" y1="272.0" x2="807.5" y2="280.7" stroke="#d01010" stroke-width="1.2"/><rect x="800.0" y="274.0" width="15.0" height="2.0" fill="#f01414"/><line x1="825.5" y1="268.0" x2="825.5" y2="282.7" stroke="#1010d0" stroke-width="1.2"/><rect x="818.0" y="270.2" width="15.0" height="12.5" fill="#0a0af0"/><line x1="843.5" y1="265.1" x2="843.5" y2="284.6" stroke="#d01010" stroke-width="1.2"/><rect x="836.0" y="269.2" width="15.0" height="15.4" fill="#f01414"/><line x1="861.5" y1="266.2" x2="861.5" y2="282.7" stroke="#1010d0" stroke-width="1.2"/><rect x="854.0" y="267.1" width="15.0" height="7.7" fill="#0a0af0"/><line x1="879.5" y1="266.3" x2="879.5" y2="282.7" stroke="#d01010" stroke-width="1.2"/><rect x="872.0" y="266.3" width="15.0" height="13.7" fill="#f01414"/><line x1="897.5" y1="260.5" x2="897.5" y2="271.5" stroke="#d01010" stroke-width="1.2"/><rect x="890.0" y="262.0" width="15.0" height="4.6" fill="#f01414"/><line x1="915.5" y1="267.1" x2="915.5" y2="278.9" stroke="#1010d0" stroke-width="1.2"/><rect x="908.0" y="267.1" width="15.0" height="8.4" fill="#0a0af0"/><line x1="933.5" y1="262.8" x2="933.5" y2="277.0" stroke="#1010d0" stroke-width="1.2"/><rect x="926.0" y="271.0" width="15.0" height="4.5" fill="#0a0af0"/><line x1="951.5" y1="275.0" x2="951.5" y2="287.8" stroke="#1010d0" stroke-width="1.2"/><rect x="944.0" y="279.2" width="15.0" height="6.1" fill="#0a0af0"/><line x1="969.5" y1="284.3" x2="969.5" y2="295.7" stroke="#1010d0" stroke-width="1.2"/><rect x="962.0" y="284.3" width="15.0" height="8.1" fill="#0a0af0"/><line x1="987.5" y1="288.4" x2="987.5" y2="299.6" stroke="#1010d0" stroke-width="1.2"/><rect x="980.0" y="291.9" width="15.0" height="4.6" fill="#0a0af0"/><line x1="1005.5" y1="293.0" x2="1005.5" y2="305.7" stroke="#1010d0" stroke-width="1.2"/><rect x="998.0" y="297.0" width="15.0" height="5.6" fill="#0a0af0"/><line x1="1023.5" y1="283.5" x2="1023.5" y2="299.6" stroke="#d01010" stroke-width="1.2"/><rect x="1016.0" y="289.3" width="15.0" height="10.3" fill="#f01414"/><line x1="1041.5" y1="285.3" x2="1041.5" y2="297.6" stroke="#1010d0" stroke-width="1.2"/><rect x="1034.0" y="287.8" width="15.0" height="7.9" fill="#0a0af0"/><line x1="1059.5" y1="290.4" x2="1059.5" y2="300.3" stroke="#d01010" stroke-width="1.2"/><rect x="1052.0" y="293.0" width="15.0" height="2.7" fill="#f01414"/><line x1="1077.5" y1="286.5" x2="1077.5" y2="299.6" stroke="#1010d0" stroke-width="1.2"/><rect x="1070.0" y="291.1" width="15.0" height="6.5" fill="#0a0af0"/><line x1="1095.5" y1="291.1" x2="1095.5" y2="306.5" stroke="#1010d0" stroke-width="1.2"/><rect x="1088.0" y="298.0" width="15.0" height="7.4" fill="#0a0af0"/><line x1="1113.5" y1="295.0" x2="1113.5" y2="305.7" stroke="#d01010" stroke-width="1.2"/><rect x="1106.0" y="296.2" width="15.0" height="6.1" fill="#f01414"/><line x1="1131.5" y1="299.1" x2="1131.5" y2="317.5" stroke="#1010d0" stroke-width="1.2"/><rect x="1124.0" y="299.1" width="15.0" height="17.6" fill="#0a0af0"/><line x1="1149.5" y1="305.0" x2="1149.5" y2="319.5" stroke="#1010d0" stroke-width="1.2"/><rect x="1142.0" y="312.3" width="15.0" height="4.1" fill="#0a0af0"/><line x1="1167.5" y1="320.3" x2="1167.5" y2="337.9" stroke="#1010d0" stroke-width="1.2"/><rect x="1160.0" y="320.3" width="15.0" height="3.2" fill="#0a0af0"/><line x1="1185.5" y1="315.2" x2="1185.5" y2="326.7" stroke="#1010d0" stroke-width="1.2"/><rect x="1178.0" y="320.0" width="15.0" height="3.6" fill="#0a0af0"/><line x1="1203.5" y1="318.8" x2="1203.5" y2="346.7" stroke="#1010d0" stroke-width="1.2"/><rect x="1196.0" y="322.9" width="15.0" height="23.8" fill="#0a0af0"/><line x1="1221.5" y1="348.1" x2="1221.5" y2="412.9" stroke="#1010d0" stroke-width="1.2"/><rect x="1214.0" y="348.1" width="15.0" height="60.7" fill="#0a0af0"/><line x1="1239.5" y1="377.1" x2="1239.5" y2="405.7" stroke="#d01010" stroke-width="1.2"/><rect x="1232.0" y="398.1" width="15.0" height="7.6" fill="#f01414"/><line x1="1257.5" y1="383.1" x2="1257.5" y2="423.6" stroke="#1010d0" stroke-width="1.2"/><rect x="1250.0" y="396.2" width="15.0" height="27.4" fill="#0a0af0"/><line x1="1275.5" y1="390.2" x2="1275.5" y2="441.4" stroke="#d01010" stroke-width="1.2"/><rect x="1268.0" y="401.0" width="15.0" height="23.8" fill="#f01414"/><line x1="1293.5" y1="379.0" x2="1293.5" y2="408.1" stroke="#1010d0" stroke-width="1.2"/><rect x="1286.0" y="398.1" width="15.0" height="3.6" fill="#0a0af0"/><line x1="1311.5" y1="387.9" x2="1311.5" y2="411.7" stroke="#1010d0" stroke-width="1.2"/><rect x="1304.0" y="398.1" width="15.0" height="5.7" fill="#0a0af0"/><line x1="1329.5" y1="396.2" x2="1329.5" y2="428.3" stroke="#1010d0" stroke-width="1.2"/><rect x="1322.0" y="406.2" width="15.0" height="10.2" fill="#0a0af0"/><line x1="1347.5" y1="402.1" x2="1347.5" y2="414.5" stroke="#d01010" stroke-width="1.2"/><rect x="1340.0" y="402.1" width="15.0" height="12.4" fill="#f01414"/><line x1="1365.5" y1="403.3" x2="1365.5" y2="418.8" stroke="#1010d0" stroke-width="1.2"/><rect x="1358.0" y="403.3" width="15.0" height="13.1" fill="#0a0af0"/><line x1="1383.5" y1="397.4" x2="1383.5" y2="415.2" stroke="#d01010" stroke-width="1.2"/><rect x="1376.0" y="409.3" width="15.0" height="5.9" fill="#f01414"/><line x1="1401.5" y1="397.4" x2="1401.5" y2="406.4" stroke="#d01010" stroke-width="1.2"/><rect x="1394.0" y="401.0" width="15.0" height="5.4" fill="#f01414"/><line x1="1419.5" y1="396.9" x2="1419.5" y2="403.3" stroke="#d01010" stroke-width="1.2"/><rect x="1412.0" y="396.9" width="15.0" height="3.3" fill="#f01414"/><line x1="1437.5" y1="394.3" x2="1437.5" y2="399.8" stroke="#d01010" stroke-width="1.2"/><rect x="1430.0" y="394.3" width="15.0" height="3.1" fill="#f01414"/><line x1="1455.5" y1="383.1" x2="1455.5" y2="395.7" stroke="#1010d0" stroke-width="1.2"/><rect x="1448.0" y="390.7" width="15.0" height="5.0" fill="#0a0af0"/><line x1="1473.5" y1="397.4" x2="1473.5" y2="414.8" stroke="#1010d0" stroke-width="1.2"/><rect x="1466.0" y="397.4" width="15.0" height="12.4" fill="#0a0af0"/><line x1="1491.5" y1="406.4" x2="1491.5" y2="420.5" stroke="#1010d0" stroke-width="1.2"/><rect x="1484.0" y="407.4" width="15.0" height="13.1" fill="#0a0af0"/><text x="117" y="253.5" class="lb">15262.10</text><text x="117" y="265.5" class="lb">08/18</text><text x="262" y="177.5" class="lb">10/13</text><text x="262" y="189.5" class="lb">17488.97</text><text x="369" y="268.0" class="lb">14669.85</text><text x="369" y="280.2" class="lb">11/24</text><text x="531" y="317.5" class="lb">12572.68</text><text x="531" y="329.0" class="lb">01/26</text><text x="621" y="257.0" class="lb">02/28</text><text x="621" y="269.5" class="lb">14105.47</text><text x="675" y="338.0" class="lb">11691.00</text><text x="675" y="350.0" class="lb">03/22</text><text x="873" y="246.0" class="lb">06/07</text><text x="873" y="257.8" class="lb">14601.27</text><text x="981" y="315.0" class="lb">12671.34</text><text x="981" y="326.5" class="lb">07/19</text><text x="1254" y="448.0" class="lb">6994.90</text><text x="1254" y="459.9" class="lb">10/30</text><line x1="9" y1="515.5" x2="1507" y2="515.5" stroke="#b4b4b4" stroke-width="1" stroke-dasharray="3 3"/><line x1="9" y1="552.5" x2="1507" y2="552.5" stroke="#b4b4b4" stroke-width="1" stroke-dasharray="3 3"/><line x1="9" y1="589.5" x2="1507" y2="589.5" stroke="#b4b4b4" stroke-width="1" stroke-dasharray="3 3"/><line x1="9" y1="516.5" x2="1491" y2="516.5" stroke="#2a2aa8" stroke-width="1"/><line x1="9" y1="562.5" x2="1491" y2="562.5" stroke="#f08850" stroke-width="1"/><line x1="9" y1="600.5" x2="1491" y2="600.5" stroke="#cc3030" stroke-width="1"/><polyline points="9.00,542.50 15.50,542.50 33.50,542.00 51.50,540.20 69.50,542.70 87.50,569.70 105.50,575.30 123.50,580.00 141.50,598.60 159.50,577.00 177.50,572.60 195.50,578.20 213.50,578.20 231.50,574.60 249.50,565.20 267.50,561.00 285.50,556.70 303.50,565.50 321.50,570.10 339.50,570.10 357.50,582.40 375.50,586.80 393.50,590.00 411.50,574.50 429.50,570.90 447.50,576.50 465.50,579.50 483.50,578.20 501.50,584.40 519.50,590.50 537.50,593.40 555.50,595.40 573.50,596.60 591.50,600.30 609.50,587.30 627.50,588.50 645.50,586.30 663.50,594.20 681.50,599.60 699.50,594.20 717.50,588.00 735.50,578.70 753.50,577.50 771.50,573.60 789.50,568.00 807.50,564.30 825.50,570.10 843.50,561.00 861.50,564.30 879.50,559.10 897.50,556.20 915.50,565.20 933.50,566.50 951.50,571.60 969.50,575.80 987.50,579.00 1005.50,581.90 1023.50,571.40 1041.50,575.00 1059.50,573.30 1077.50,576.30 1095.50,581.20 1113.50,572.60 1131.50,583.90 1149.50,584.40 1167.50,587.30 1185.50,588.50 1203.50,597.80 1221.50,613.00 1239.50,605.20 1257.50,610.10 1275.50,596.10 1293.50,595.40 1311.50,596.60 1329.50,600.30 1347.50,590.50 1365.50,594.20 1383.50,589.30 1401.50,584.40 1419.50,581.40 1437.50,580.70 1455.50,580.70 1473.50,586.30 1491.50,590.00" fill="none" stroke="#f07028" stroke-width="3" stroke-linejoin="round"  /><line x1="9" y1="644.5" x2="1507" y2="644.5" stroke="#b4b4b4" stroke-width="1" stroke-dasharray="3 3"/><line x1="9" y1="685.5" x2="1507" y2="685.5" stroke="#b4b4b4" stroke-width="1" stroke-dasharray="3 3"/><line x1="9" y1="725.5" x2="1507" y2="725.5" stroke="#b4b4b4" stroke-width="1" stroke-dasharray="3 3"/><line x1="9" y1="658.5" x2="1492" y2="658.5" stroke="#cccccc" stroke-width="1"/><line x1="9" y1="725.5" x2="1492" y2="725.5" stroke="#cccccc" stroke-width="1"/><polyline points="9.00,687.98 15.50,691.98 33.50,680.73 51.50,680.73 69.50,680.73 87.50,680.73 105.50,691.98 123.50,691.98 141.50,703.23 159.50,703.23 177.50,691.98 195.50,703.23 213.50,703.23 231.50,691.98 249.50,691.98 267.50,691.98 285.50,680.73 303.50,680.73 321.50,680.73 339.50,669.48 357.50,669.48 375.50,680.73 393.50,691.98 411.50,680.73 429.50,680.73 447.50,691.98 465.50,703.23 483.50,703.23 501.50,714.48 519.50,714.48 537.50,714.48 555.50,725.73 573.50,725.73 591.50,725.73 609.50,714.48 627.50,725.73 645.50,725.73 663.50,725.73 681.50,725.73 699.50,725.73 717.50,714.48 735.50,703.23 753.50,691.98 771.50,680.73 789.50,669.48 807.50,658.23 825.50,669.48 843.50,658.23 861.50,669.48 879.50,658.23 897.50,646.98 915.50,658.23 933.50,669.48 951.50,680.73 969.50,691.98 987.50,703.23 1005.50,714.48 1023.50,714.48 1041.50,714.48 1059.50,714.48 1077.50,714.48 1095.50,725.73 1113.50,725.73 1131.50,725.73 1149.50,714.48 1167.50,714.48 1185.50,714.48 1203.50,714.48 1221.50,714.48 1239.50,714.48 1257.50,714.48 1275.50,714.48 1293.50,703.23 1311.50,703.23 1329.50,714.48 1347.50,703.23 1365.50,714.48 1383.50,703.23 1401.50,691.98 1419.50,680.73 1437.50,669.48 1455.50,680.73 1473.50,680.73 1491.50,691.98" fill="none" stroke="#b0203a" stroke-width="1" stroke-linejoin="round"  shape-rendering="crispEdges"/><line x1="9" y1="757.5" x2="1507" y2="757.5" stroke="#b4b4b4" stroke-width="1" stroke-dasharray="3 3"/><line x1="9" y1="795.5" x2="1507" y2="795.5" stroke="#b4b4b4" stroke-width="1" stroke-dasharray="3 3"/><line x1="9" y1="833.5" x2="1507" y2="833.5" stroke="#b4b4b4" stroke-width="1" stroke-dasharray="3 3"/><line x1="9" y1="771.5" x2="1492" y2="771.5" stroke="#a0a0a0" stroke-width="1"/><line x1="15.5" y1="771.4" x2="15.5" y2="773.0" stroke="#c02838" stroke-width="1.2"/><line x1="33.5" y1="771.4" x2="33.5" y2="773.0" stroke="#c02838" stroke-width="1.2"/><line x1="51.5" y1="771.4" x2="51.5" y2="773.0" stroke="#c02838" stroke-width="1.2"/><line x1="69.5" y1="771.4" x2="69.5" y2="773.0" stroke="#c02838" stroke-width="1.2"/><line x1="87.5" y1="771.4" x2="87.5" y2="773.0" stroke="#c02838" stroke-width="1.2"/><line x1="105.5" y1="771.4" x2="105.5" y2="774.8" stroke="#c02838" stroke-width="1.2"/><line x1="123.5" y1="771.4" x2="123.5" y2="777.9" stroke="#c02838" stroke-width="1.2"/><line x1="141.5" y1="771.4" x2="141.5" y2="781.9" stroke="#c02838" stroke-width="1.2"/><line x1="159.5" y1="771.4" x2="159.5" y2="781.9" stroke="#c02838" stroke-width="1.2"/><line x1="177.5" y1="771.4" x2="177.5" y2="779.4" stroke="#c02838" stroke-width="1.2"/><line x1="195.5" y1="771.4" x2="195.5" y2="779.4" stroke="#c02838" stroke-width="1.2"/><line x1="213.5" y1="771.4" x2="213.5" y2="777.0" stroke="#c02838" stroke-width="1.2"/><line x1="231.5" y1="771.4" x2="231.5" y2="776.0" stroke="#c02838" stroke-width="1.2"/><line x1="249.5" y1="771.4" x2="249.5" y2="775.0" stroke="#c02838" stroke-width="1.2"/><line x1="267.5" y1="771.4" x2="267.5" y2="773.0" stroke="#c02838" stroke-width="1.2"/><line x1="285.5" y1="771.4" x2="285.5" y2="773.0" stroke="#c02838" stroke-width="1.2"/><line x1="303.5" y1="771.4" x2="303.5" y2="773.0" stroke="#c02838" stroke-width="1.2"/><line x1="321.5" y1="771.4" x2="321.5" y2="773.0" stroke="#c02838" stroke-width="1.2"/><line x1="339.5" y1="771.4" x2="339.5" y2="773.0" stroke="#c02838" stroke-width="1.2"/><line x1="357.5" y1="771.4" x2="357.5" y2="773.0" stroke="#c02838" stroke-width="1.2"/><line x1="375.5" y1="771.4" x2="375.5" y2="774.0" stroke="#c02838" stroke-width="1.2"/><line x1="393.5" y1="771.4" x2="393.5" y2="776.0" stroke="#c02838" stroke-width="1.2"/><line x1="411.5" y1="771.4" x2="411.5" y2="775.0" stroke="#c02838" stroke-width="1.2"/><line x1="429.5" y1="771.4" x2="429.5" y2="775.0" stroke="#c02838" stroke-width="1.2"/><line x1="447.5" y1="771.4" x2="447.5" y2="774.0" stroke="#c02838" stroke-width="1.2"/><line x1="465.5" y1="771.4" x2="465.5" y2="774.0" stroke="#c02838" stroke-width="1.2"/><line x1="483.5" y1="771.4" x2="483.5" y2="774.0" stroke="#c02838" stroke-width="1.2"/><line x1="501.5" y1="771.4" x2="501.5" y2="774.0" stroke="#c02838" stroke-width="1.2"/><line x1="519.5" y1="771.4" x2="519.5" y2="776.4" stroke="#c02838" stroke-width="1.2"/><line x1="537.5" y1="771.4" x2="537.5" y2="777.5" stroke="#c02838" stroke-width="1.2"/><line x1="555.5" y1="771.4" x2="555.5" y2="778.0" stroke="#c02838" stroke-width="1.2"/><line x1="573.5" y1="771.4" x2="573.5" y2="778.6" stroke="#c02838" stroke-width="1.2"/><line x1="591.5" y1="771.4" x2="591.5" y2="780.3" stroke="#c02838" stroke-width="1.2"/><line x1="609.5" y1="771.4" x2="609.5" y2="777.3" stroke="#c02838" stroke-width="1.2"/><line x1="627.5" y1="771.4" x2="627.5" y2="774.3" stroke="#c02838" stroke-width="1.2"/><line x1="645.5" y1="771.4" x2="645.5" y2="774.3" stroke="#c02838" stroke-width="1.2"/><line x1="663.5" y1="771.4" x2="663.5" y2="774.0" stroke="#c02838" stroke-width="1.2"/><line x1="681.5" y1="771.4" x2="681.5" y2="775.5" stroke="#c02838" stroke-width="1.2"/><line x1="699.5" y1="771.4" x2="699.5" y2="776.0" stroke="#c02838" stroke-width="1.2"/><line x1="717.5" y1="771.4" x2="717.5" y2="773.6" stroke="#c02838" stroke-width="1.2"/><line x1="735.5" y1="771.4" x2="735.5" y2="773.0" stroke="#c02838" stroke-width="1.2"/><line x1="753.5" y1="771.4" x2="753.5" y2="773.0" stroke="#c02838" stroke-width="1.2"/><line x1="771.5" y1="771.4" x2="771.5" y2="767.8" stroke="#c02838" stroke-width="1.2"/><line x1="789.5" y1="771.4" x2="789.5" y2="765.6" stroke="#c02838" stroke-width="1.2"/><line x1="807.5" y1="771.4" x2="807.5" y2="763.7" stroke="#c02838" stroke-width="1.2"/><line x1="825.5" y1="771.4" x2="825.5" y2="763.7" stroke="#c02838" stroke-width="1.2"/><line x1="843.5" y1="771.4" x2="843.5" y2="762.0" stroke="#c02838" stroke-width="1.2"/><line x1="861.5" y1="771.4" x2="861.5" y2="762.0" stroke="#c02838" stroke-width="1.2"/><line x1="879.5" y1="771.4" x2="879.5" y2="762.0" stroke="#c02838" stroke-width="1.2"/><line x1="897.5" y1="771.4" x2="897.5" y2="760.5" stroke="#c02838" stroke-width="1.2"/><line x1="915.5" y1="771.4" x2="915.5" y2="762.0" stroke="#c02838" stroke-width="1.2"/><line x1="933.5" y1="771.4" x2="933.5" y2="763.7" stroke="#c02838" stroke-width="1.2"/><line x1="951.5" y1="771.4" x2="951.5" y2="765.6" stroke="#c02838" stroke-width="1.2"/><line x1="969.5" y1="771.4" x2="969.5" y2="767.8" stroke="#c02838" stroke-width="1.2"/><line x1="987.5" y1="771.4" x2="987.5" y2="769.9" stroke="#c02838" stroke-width="1.2"/><line x1="1005.5" y1="771.4" x2="1005.5" y2="773.0" stroke="#c02838" stroke-width="1.2"/><line x1="1023.5" y1="771.4" x2="1023.5" y2="773.0" stroke="#c02838" stroke-width="1.2"/><line x1="1041.5" y1="771.4" x2="1041.5" y2="773.0" stroke="#c02838" stroke-width="1.2"/><line x1="1059.5" y1="771.4" x2="1059.5" y2="773.0" stroke="#c02838" stroke-width="1.2"/><line x1="1077.5" y1="771.4" x2="1077.5" y2="773.0" stroke="#c02838" stroke-width="1.2"/><line x1="1095.5" y1="771.4" x2="1095.5" y2="773.0" stroke="#c02838" stroke-width="1.2"/><line x1="1113.5" y1="771.4" x2="1113.5" y2="773.0" stroke="#c02838" stroke-width="1.2"/><line x1="1131.5" y1="771.4" x2="1131.5" y2="773.0" stroke="#c02838" stroke-width="1.2"/><line x1="1149.5" y1="771.4" x2="1149.5" y2="774.0" stroke="#c02838" stroke-width="1.2"/><line x1="1167.5" y1="771.4" x2="1167.5" y2="775.0" stroke="#c02838" stroke-width="1.2"/><line x1="1185.5" y1="771.4" x2="1185.5" y2="775.5" stroke="#c02838" stroke-width="1.2"/><line x1="1203.5" y1="771.4" x2="1203.5" y2="777.0" stroke="#c02838" stroke-width="1.2"/><line x1="1221.5" y1="771.4" x2="1221.5" y2="784.6" stroke="#c02838" stroke-width="1.2"/><line x1="1239.5" y1="771.4" x2="1239.5" y2="788.0" stroke="#c02838" stroke-width="1.2"/><line x1="1257.5" y1="771.4" x2="1257.5" y2="790.6" stroke="#c02838" stroke-width="1.2"/><line x1="1275.5" y1="771.4" x2="1275.5" y2="789.6" stroke="#c02838" stroke-width="1.2"/><line x1="1293.5" y1="771.4" x2="1293.5" y2="787.3" stroke="#c02838" stroke-width="1.2"/><line x1="1311.5" y1="771.4" x2="1311.5" y2="784.6" stroke="#c02838" stroke-width="1.2"/><line x1="1329.5" y1="771.4" x2="1329.5" y2="784.0" stroke="#c02838" stroke-width="1.2"/><line x1="1347.5" y1="771.4" x2="1347.5" y2="780.3" stroke="#c02838" stroke-width="1.2"/><line x1="1365.5" y1="771.4" x2="1365.5" y2="779.0" stroke="#c02838" stroke-width="1.2"/><line x1="1383.5" y1="771.4" x2="1383.5" y2="775.7" stroke="#c02838" stroke-width="1.2"/><line x1="1401.5" y1="771.4" x2="1401.5" y2="773.0" stroke="#c02838" stroke-width="1.2"/><line x1="1419.5" y1="771.4" x2="1419.5" y2="770.0" stroke="#c02838" stroke-width="1.2"/><line x1="1437.5" y1="771.4" x2="1437.5" y2="768.0" stroke="#c02838" stroke-width="1.2"/><line x1="1455.5" y1="771.4" x2="1455.5" y2="765.4" stroke="#c02838" stroke-width="1.2"/><line x1="1473.5" y1="771.4" x2="1473.5" y2="766.4" stroke="#c02838" stroke-width="1.2"/><line x1="1491.5" y1="771.4" x2="1491.5" y2="767.1" stroke="#c02838" stroke-width="1.2"/><polyline points="8.00,760.23 50.00,758.83 70.00,758.83 100.00,760.23 120.00,761.73 150.00,764.23 180.00,768.93 200.00,772.93 230.00,775.03 260.00,777.53 290.00,777.53 320.00,777.23 350.00,777.53 380.00,780.23 410.00,783.23 440.00,784.83 480.00,786.23 520.00,789.43 560.00,793.53 600.00,798.03 640.00,801.53 680.00,804.73 720.00,806.93 760.00,805.93 800.00,802.23 840.00,798.33 880.00,794.23 920.00,789.43 960.00,784.63 1000.00,783.63 1040.00,784.23 1100.00,784.23 1130.00,784.83 1160.00,786.53 1190.00,788.23 1220.00,792.13 1250.00,798.13 1280.00,804.73 1310.00,810.63 1340.00,816.23 1370.00,821.93 1400.00,823.93 1430.00,822.93 1460.00,821.93 1490.00,819.63" fill="none" stroke="#1c1ca0" stroke-width="1" stroke-linejoin="round"  shape-rendering="crispEdges"/><polyline points="8.00,759.23 50.00,757.63 70.00,758.23 90.00,761.23 110.00,764.23 130.00,769.53 150.00,775.03 170.00,778.73 190.00,781.23 210.00,783.33 230.00,783.33 250.00,782.13 270.00,779.63 290.00,777.53 330.00,778.13 350.00,779.63 380.00,784.23 400.00,788.23 430.00,788.83 480.00,789.43 520.00,794.23 560.00,798.93 590.00,806.93 630.00,806.93 660.00,807.93 680.00,810.73 720.00,810.73 740.00,807.93 760.00,803.73 800.00,795.73 840.00,788.73 880.00,782.43 900.00,778.93 940.00,778.23 960.00,781.43 990.00,783.63 1040.00,784.23 1100.00,784.23 1130.00,786.53 1160.00,789.83 1190.00,791.53 1205.00,796.43 1220.00,806.33 1240.00,814.63 1260.00,822.93 1280.00,826.23 1310.00,827.93 1340.00,830.53 1370.00,830.53 1400.00,826.23 1430.00,821.93 1455.00,815.63 1490.00,814.63" fill="none" stroke="#c01c1c" stroke-width="1" stroke-linejoin="round"  shape-rendering="crispEdges"/><line x1="9" y1="865.5" x2="1507" y2="865.5" stroke="#b4b4b4" stroke-width="1" stroke-dasharray="3 3"/><line x1="9" y1="902.5" x2="1507" y2="902.5" stroke="#b4b4b4" stroke-width="1" stroke-dasharray="3 3"/><line x1="9" y1="881.5" x2="1492" y2="881.5" stroke="#000" stroke-width="1"/><polyline points="9.00,875.23 15.50,875.23 33.50,875.23 51.50,874.33 69.50,876.83 87.50,881.63 105.50,884.83 123.50,891.23 141.50,902.33 159.50,896.03 177.50,894.43 195.50,898.53 213.50,898.53 231.50,896.93 249.50,892.83 267.50,882.63 285.50,878.43 303.50,881.03 321.50,871.43 339.50,880.03 357.50,889.03 375.50,889.03 393.50,891.23 411.50,886.43 429.50,888.03 447.50,894.43 465.50,898.53 483.50,893.73 501.50,896.93 519.50,901.73 537.50,896.03 555.50,895.03 573.50,892.83 591.50,903.33 609.50,900.13 627.50,898.53 645.50,896.03 663.50,902.33 681.50,901.43 699.50,895.03 717.50,891.23 735.50,884.83 753.50,881.63 771.50,877.83 789.50,879.43 807.50,876.83 825.50,881.63 843.50,869.53 861.50,866.33 879.50,866.33 897.50,867.93 915.50,875.23 933.50,876.83 951.50,881.03 969.50,886.43 987.50,889.63 1005.50,888.63 1023.50,888.63 1041.50,889.63 1059.50,891.23 1077.50,893.43 1095.50,891.83 1113.50,888.63 1131.50,892.23 1149.50,889.63 1167.50,890.23 1185.50,889.63 1203.50,901.43 1221.50,921.53 1239.50,918.33 1257.50,925.33 1275.50,915.73 1293.50,918.33 1311.50,912.93 1329.50,917.33 1347.50,909.43 1365.50,914.43 1383.50,903.93 1401.50,879.13 1419.50,881.03 1437.50,871.43 1455.50,880.03 1473.50,883.93 1491.50,887.43" fill="none" stroke="#b0203a" stroke-width="1" stroke-linejoin="round"  shape-rendering="crispEdges"/><rect x="8" y="498" width="1587" height="1" fill="#000"/><rect x="8" y="627" width="1587" height="1" fill="#000"/><rect x="8" y="739" width="1587" height="1" fill="#000"/><rect x="8" y="847" width="1587" height="1" fill="#000"/><rect x="8" y="946" width="1587" height="1" fill="#000"/><rect x="7" y="92" width="2" height="886" fill="#000"/><rect x="1509" y="115" width="1" height="863" fill="#000"/><rect x="1595" y="90" width="1" height="926" fill="#1a1a1a"/><rect x="33" y="946" width="1" height="10" fill="#000"/><text x="33" y="966" class="ax">07/07</text><rect x="123" y="946" width="1" height="10" fill="#000"/><text x="123" y="966" class="ax">07/08</text><rect x="195" y="946" width="1" height="10" fill="#000"/><text x="195" y="966" class="ax">07/09</text><rect x="267" y="946" width="1" height="10" fill="#000"/><text x="267" y="966" class="ax">07/10</text><rect x="357" y="946" width="1" height="10" fill="#000"/><text x="357" y="966" class="ax">07/11</text><rect x="429" y="946" width="1" height="10" fill="#000"/><text x="429" y="966" class="ax">07/12</text><rect x="519" y="946" width="1" height="10" fill="#000"/><text x="519" y="966" class="ax">2008</text><rect x="591" y="946" width="1" height="10" fill="#000"/><text x="591" y="966" class="ax">08/02</text><rect x="663" y="946" width="1" height="10" fill="#000"/><text x="663" y="966" class="ax">08/03</text><rect x="753" y="946" width="1" height="10" fill="#000"/><text x="753" y="966" class="ax">08/04</text><rect x="825" y="946" width="1" height="10" fill="#000"/><text x="825" y="966" class="ax">08/05</text><rect x="897" y="946" width="1" height="10" fill="#000"/><text x="897" y="966" class="ax">08/06</text><rect x="987" y="946" width="1" height="10" fill="#000"/><text x="987" y="966" class="ax">08/07</text><rect x="1059" y="946" width="1" height="10" fill="#000"/><text x="1059" y="966" class="ax">08/08</text><rect x="1131" y="946" width="1" height="10" fill="#000"/><text x="1131" y="966" class="ax">08/09</text><rect x="1221" y="946" width="1" height="10" fill="#000"/><text x="1221" y="966" class="ax">08/10</text><rect x="1293" y="946" width="1" height="10" fill="#000"/><text x="1293" y="966" class="ax">08/11</text><rect x="1365" y="946" width="1" height="10" fill="#000"/><text x="1365" y="966" class="ax">08/12</text><rect x="1455" y="946" width="1" height="10" fill="#000"/><text x="1455" y="966" class="ax">2009</text><rect x="1509" y="134" width="6" height="1" fill="#000"/><text x="1518" y="140.0" class="ax">20,000.00</text><rect x="1509" y="181" width="6" height="1" fill="#000"/><text x="1518" y="187.0" class="ax">18,000.00</text><rect x="1509" y="227" width="6" height="1" fill="#000"/><text x="1518" y="233.0" class="ax">16,000.00</text><rect x="1509" y="274" width="6" height="1" fill="#000"/><text x="1518" y="280.0" class="ax">14,000.00</text><rect x="1509" y="321" width="6" height="1" fill="#000"/><text x="1518" y="327.0" class="ax">12,000.00</text><rect x="1509" y="368" width="6" height="1" fill="#000"/><text x="1518" y="374.0" class="ax">10,000.00</text><rect x="1509" y="414" width="6" height="1" fill="#000"/><text x="1518" y="420.0" class="ax">8,000.00</text><rect x="1509" y="461" width="6" height="1" fill="#000"/><text x="1518" y="467.0" class="ax">6,000.00</text><rect x="1509" y="515" width="6" height="1" fill="#000"/><text x="1518" y="521.0" class="ax">80.50</text><rect x="1509" y="552" width="6" height="1" fill="#000"/><text x="1518" y="558.0" class="ax">56.50</text><rect x="1509" y="589" width="6" height="1" fill="#000"/><text x="1518" y="595.0" class="ax">32.50</text><rect x="1509" y="644" width="6" height="1" fill="#000"/><text x="1518" y="650.0" class="ax">85.00</text><rect x="1509" y="685" width="6" height="1" fill="#000"/><text x="1518" y="691.0" class="ax">55.00</text><rect x="1509" y="725" width="6" height="1" fill="#000"/><text x="1518" y="731.0" class="ax">25.00</text><rect x="1509" y="757" width="6" height="1" fill="#000"/><text x="1518" y="763.0" class="ax">350.00</text><rect x="1509" y="795" width="6" height="1" fill="#000"/><text x="1518" y="801.0" class="ax">-600.00</text><rect x="1509" y="833" width="6" height="1" fill="#000"/><text x="1518" y="839.0" class="ax">-1,550.00</text><rect x="1509" y="865" width="6" height="1" fill="#000"/><text x="1518" y="871.0" class="ax">2,000.00</text><rect x="1509" y="902" width="6" height="1" fill="#000"/><text x="1518" y="908.0" class="ax">-2,500.00</text><text x="12" y="129" class="hd" xml:space="preserve">日経225( 週, 2004/04/17 - 2009/01/23 )</text><text x="261" y="129" class="hd" xml:space="preserve">ボリンジャーバンド( Close, 20, 2.0, -2.0, 0 )</text><text x="550" y="129" class="hd" xml:space="preserve">移動平均( Close, 25 )</text><text x="697" y="129" class="hd" xml:space="preserve">移動平均( Close, 75 )</text><text x="843" y="129" class="hd" xml:space="preserve">期間高安表示機能</text><text x="12" y="512" class="hd" xml:space="preserve">RSI( Close, 14, 25, 80 )</text><text x="12" y="641" class="hd" xml:space="preserve">サイコロジカルライン( 12, 75, 25 )</text><text x="12" y="753" class="hd" xml:space="preserve">MACD( 12, 26, 9 )</text><text x="12" y="861" class="hd" xml:space="preserve">モメンタム( Close, 10 )</text><rect x="1578.5" y="117.5" width="14" height="12" fill="#f4f4f4" stroke="#a0a0a0"/><path d="M1580.5 121.0 L1590.5 121.0 L1585.5 126.0 Z" fill="#707070"/><rect x="1578.5" y="500.5" width="14" height="12" fill="#f4f4f4" stroke="#a0a0a0"/><path d="M1580.5 504.0 L1590.5 504.0 L1585.5 509.0 Z" fill="#707070"/><rect x="1578.5" y="629.5" width="14" height="12" fill="#f4f4f4" stroke="#a0a0a0"/><path d="M1580.5 633.0 L1590.5 633.0 L1585.5 638.0 Z" fill="#707070"/><rect x="1578.5" y="741.5" width="14" height="12" fill="#f4f4f4" stroke="#a0a0a0"/><path d="M1580.5 745.0 L1590.5 745.0 L1585.5 750.0 Z" fill="#707070"/><rect x="1578.5" y="849.5" width="14" height="12" fill="#f4f4f4" stroke="#a0a0a0"/><path d="M1580.5 853.0 L1590.5 853.0 L1585.5 858.0 Z" fill="#707070"/></svg>
<div class="r" style="left:1596px;top:93px;width:26px;height:923px;background:linear-gradient(90deg,#fbfbfb,#e2e2e2);"></div>
<div class="r" style="left:1596px;top:92px;width:26px;height:1px;background:#fff;"></div>
<div class="r" style="left:1597px;top:93px;width:25px;height:1px;background:#111;"></div>
<div class="r" style="left:1622px;top:68px;width:3px;height:951px;background:#2a2a2a;"></div>
<div class="r" style="left:1599px;top:101px;width:21px;height:21px;background:#e9e9e9;border:1px solid #c4c4c4;border-right-color:#b0b0b0;border-bottom-color:#b0b0b0"></div>
<svg style="left:1599px;top:101px" width="21" height="21" viewBox="0 0 21 21"><path d="M5.5 2.5 L5.5 17 L9 13.5 L11.8 19 L14 18 L11.3 12.5 L16.5 12.5 Z" fill="#fff" stroke="#000" stroke-width="1.1" stroke-linejoin="round"/></svg>
<div class="r" style="left:1599px;top:124px;width:21px;height:21px;background:#e9e9e9;border:1px solid #c4c4c4;border-right-color:#b0b0b0;border-bottom-color:#b0b0b0"></div>
<svg style="left:1599px;top:124px" width="21" height="21" viewBox="0 0 21 21"><path d="M10.5 3 V18 M3 10.5 H18" stroke="#111" stroke-width="1.3"/></svg>
<div class="r" style="left:1599px;top:147px;width:21px;height:21px;background:#e9e9e9;border:1px solid #c4c4c4;border-right-color:#b0b0b0;border-bottom-color:#b0b0b0"></div>
<svg style="left:1599px;top:147px" width="21" height="21" viewBox="0 0 21 21"><path d="M3 17 L18 4" stroke="#111" stroke-width="1.3"/></svg>
<div class="r" style="left:1599px;top:170px;width:21px;height:21px;background:#e9e9e9;border:1px solid #c4c4c4;border-right-color:#b0b0b0;border-bottom-color:#b0b0b0"></div>
<svg style="left:1599px;top:170px" width="21" height="21" viewBox="0 0 21 21"><path d="M3 10.5 H18" stroke="#111" stroke-width="1.4"/></svg>
<div class="r" style="left:1599px;top:193px;width:21px;height:21px;background:#e9e9e9;border:1px solid #c4c4c4;border-right-color:#b0b0b0;border-bottom-color:#b0b0b0"></div>
<svg style="left:1599px;top:193px" width="21" height="21" viewBox="0 0 21 21"><path d="M10.5 3 V18" stroke="#111" stroke-width="1.4"/></svg>
<div class="r" style="left:1599px;top:216px;width:21px;height:21px;background:#e9e9e9;border:1px solid #c4c4c4;border-right-color:#b0b0b0;border-bottom-color:#b0b0b0"></div>
<svg style="left:1599px;top:216px" width="21" height="21" viewBox="0 0 21 21"><path d="M6 14 C6 8 7 5 10.5 5 C14 5 15 8 15 14 L16.5 15.5 H4.5 Z" fill="#fff" stroke="#111" stroke-width="1.1"/><circle cx="10.5" cy="17.5" r="1.6" fill="#fff" stroke="#111"/><path d="M10.5 3 V5" stroke="#111"/></svg>
<div class="r" style="left:1599px;top:239px;width:21px;height:21px;background:#e9e9e9;border:1px solid #c4c4c4;border-right-color:#b0b0b0;border-bottom-color:#b0b0b0"></div>
<svg style="left:1599px;top:239px" width="21" height="21" viewBox="0 0 21 21"><path d="M3 5 C5 11 16 11 18 5 M5.5 4 C7 9 14 9 15.5 4 M10.5 4 V12 L5 18" fill="none" stroke="#111" stroke-width="1.1"/><path d="M2 14 L2 19 L7 19 Z" fill="#c0206a"/></svg>
<div class="r" style="left:1599px;top:262px;width:21px;height:21px;background:#e9e9e9;border:1px solid #c4c4c4;border-right-color:#b0b0b0;border-bottom-color:#b0b0b0"></div>
<svg style="left:1599px;top:262px" width="21" height="21" viewBox="0 0 21 21"><path d="M4 15 L10 5 M7 15 L13 5 M10 15 L16 5 M13 15 L19 5 M3 13 L19 9" fill="none" stroke="#111" stroke-width="1.1"/><path d="M2 14 L2 19 L7 19 Z" fill="#c0206a"/></svg>
<div class="r" style="left:1599px;top:285px;width:21px;height:21px;background:#e9e9e9;border:1px solid #c4c4c4;border-right-color:#b0b0b0;border-bottom-color:#b0b0b0"></div>
<svg style="left:1599px;top:285px" width="21" height="21" viewBox="0 0 21 21"><path d="M3 5 H19 M13 9 H19 M13 12 H19 M3 16 H19" stroke="#111" stroke-width="1"/><ellipse cx="8" cy="10.5" rx="3.5" ry="3" fill="none" stroke="#111" stroke-width="1.1"/><path d="M9 12 L12 14" stroke="#111"/><path d="M2 14 L2 19 L7 19 Z" fill="#c0206a"/></svg>
<div class="r" style="left:1599px;top:308px;width:21px;height:21px;background:#e9e9e9;border:1px solid #c4c4c4;border-right-color:#b0b0b0;border-bottom-color:#b0b0b0"></div>
<svg style="left:1599px;top:308px" width="21" height="21" viewBox="0 0 21 21"><path d="M4 7 V15 H16 V7 M2 9 L4 6 L6 9 M14 9 L16 6 L18 9" fill="none" stroke="#111" stroke-width="1.2"/><path d="M2 14 L2 19 L7 19 Z" fill="#c0206a"/></svg>
<div class="r" style="left:1599px;top:331px;width:21px;height:21px;background:#e9e9e9;border:1px solid #c4c4c4;border-right-color:#b0b0b0;border-bottom-color:#b0b0b0"></div>
<svg style="left:1599px;top:331px" width="21" height="21" viewBox="0 0 21 21"><path d="M5 17 L10.5 3.5 L16 17 M7 12.5 H14" fill="none" stroke="#111" stroke-width="1.2"/></svg>
<div class="r" style="left:1599px;top:354px;width:21px;height:21px;background:#e9e9e9;border:1px solid #c4c4c4;border-right-color:#b0b0b0;border-bottom-color:#b0b0b0"></div>
<svg style="left:1599px;top:354px" width="21" height="21" viewBox="0 0 21 21"><rect x="4" y="4" width="13" height="13" fill="#fff" stroke="#111"/><rect x="4" y="4" width="13" height="3.5" fill="#222"/><path d="M4 10.5 H17 M4 14 H17 M8.5 7 V17 M13 7 V17" stroke="#111"/></svg>
<div class="r" style="left:1599px;top:377px;width:21px;height:21px;background:#e9e9e9;border:1px solid #c4c4c4;border-right-color:#b0b0b0;border-bottom-color:#b0b0b0"></div>
<svg style="left:1599px;top:377px" width="21" height="21" viewBox="0 0 21 21"><ellipse cx="10.5" cy="10.5" rx="7.5" ry="4.5" fill="none" stroke="#111" stroke-width="1.2"/></svg>
<div class="r" style="left:1599px;top:400px;width:21px;height:21px;background:#e9e9e9;border:1px solid #c4c4c4;border-right-color:#b0b0b0;border-bottom-color:#b0b0b0"></div>
<svg style="left:1599px;top:400px" width="21" height="21" viewBox="0 0 21 21"><rect x="3.5" y="5.5" width="14" height="10" fill="none" stroke="#111" stroke-width="1.2"/></svg>
<div class="r" style="left:1599px;top:423px;width:21px;height:21px;background:#e9e9e9;border:1px solid #c4c4c4;border-right-color:#b0b0b0;border-bottom-color:#b0b0b0"></div>
<svg style="left:1599px;top:423px" width="21" height="21" viewBox="0 0 21 21"><path d="M3 15 L10.5 7 L18 15 Z" fill="none" stroke="#111" stroke-width="1.2"/></svg>
<div class="r" style="left:1599px;top:446px;width:21px;height:21px;background:#e9e9e9;border:1px solid #888;border-top-color:#222;border-left-color:#222"></div>
<svg style="left:1599px;top:446px" width="21" height="21" viewBox="0 0 21 21"><path d="M4 12 L11 4 L17 9 L10 16 Z" fill="#fff" stroke="#111" stroke-width="1.2"/><path d="M4 12 L7 15 L10 16" fill="none" stroke="#111"/><path d="M3 18.5 H18" stroke="#111" stroke-width="1.6"/></svg>
<div class="r" style="left:1599px;top:469px;width:21px;height:21px;background:#e9e9e9;border:1px solid #c4c4c4;border-right-color:#b0b0b0;border-bottom-color:#b0b0b0"></div>
<svg style="left:1599px;top:469px" width="21" height="21" viewBox="0 0 21 21"><path d="M6 13 L12 7 L17 11 L11 17 Z" fill="#fff" stroke="#111" stroke-width="1.2"/><path d="M2 8 L4 3 L6 8 M3 6.5 H5" fill="none" stroke="#111" stroke-width="0.9"/><path d="M3 19 H18" stroke="#111" stroke-width="1.6"/></svg>
<svg style="left:8px;top:978px" width="1264" height="17" viewBox="0 0 1264 17"><defs><pattern id="chk" width="2" height="2" patternUnits="userSpaceOnUse"><rect width="2" height="2" fill="#fff"/><rect width="1" height="1" fill="#c0c0c0"/><rect x="1" y="1" width="1" height="1" fill="#c0c0c0"/></pattern></defs><rect x="0" y="0" width="1264" height="16" fill="url(#chk)"/><rect x="0" y="0" width="16" height="16" fill="#c0c0c0"/><path d="M0 0.5 H15.5 V15.5 M0.5 0 V16" fill="none" stroke="#fff"/><path d="M15.5 0 V16 M0 15.5 H16" stroke="#000"/><path d="M5 8 L9 4 L9 12 Z" fill="#000"/><rect x="839" y="0" width="406" height="16" fill="#c0c0c0"/><path d="M839.5 16 V0.5 H1245" fill="none" stroke="#efefef"/><path d="M839 15.5 H1245.5 V0" fill="none" stroke="#222"/><rect x="1246" y="0" width="16" height="16" fill="#c0c0c0"/><path d="M1246.5 16 V0.5 H1262" fill="none" stroke="#fff"/><path d="M1246 15.5 H1261.5 V0" fill="none" stroke="#000"/><path d="M1252 4 L1256 8 L1252 12 Z" fill="#000"/><rect x="0" y="16" width="1264" height="1" fill="#000"/></svg>
<div class="r" style="left:1270px;top:978px;width:325px;height:17px;background:#c4c4c4;"></div>
<div class="r" style="left:1270px;top:995px;width:325px;height:1px;background:#fff;"></div>
<svg style="left:1270px;top:978px" width="121" height="17" viewBox="0 0 121 17"><rect x="5" y="4" width="110" height="1.5" fill="#000"/><rect x="5" y="5.5" width="110" height="2" fill="#333"/><rect x="5" y="7.5" width="110" height="1" fill="#999"/><rect x="27.5" y="2.5" width="4" height="10" rx="1" fill="#444" stroke="#111"/><path d="M7.5 14 V17 M113.5 14 V17" stroke="#000"/></svg>
<div class="r" style="left:1391px;top:978px;width:16px;height:16px;background:#e4e6ea;border:1px solid #fff;border-right-color:#a8a8a8;border-bottom-color:#a8a8a8"></div>
<svg style="left:1391px;top:978px" width="15" height="16" viewBox="0 0 15 16"><path d="M3 8 L9 3 L9 13 Z M10 3 H12 V13 H10 Z" fill="#1a3284"/></svg>
<div class="r" style="left:1408px;top:978px;width:16px;height:16px;background:#e4e6ea;border:1px solid #fff;border-right-color:#a8a8a8;border-bottom-color:#a8a8a8"></div>
<svg style="left:1408px;top:978px" width="15" height="16" viewBox="0 0 15 16"><path d="M7.5 3 V13 M2.5 8 H12.5" stroke="#222" stroke-width="2"/></svg>
<div class="r" style="left:1425px;top:978px;width:16px;height:16px;background:#e4e6ea;border:1px solid #fff;border-right-color:#a8a8a8;border-bottom-color:#a8a8a8"></div>
<svg style="left:1425px;top:978px" width="15" height="16" viewBox="0 0 15 16"><path d="M2.5 8.5 H12.5" stroke="#222" stroke-width="2"/></svg>
<div class="r" style="left:1442px;top:978px;width:16px;height:16px;background:#e4e6ea;border:1px solid #fff;border-right-color:#a8a8a8;border-bottom-color:#a8a8a8"></div>
<svg style="left:1442px;top:978px" width="15" height="16" viewBox="0 0 15 16"><path d="M7.5 2 V14 M2 8 H13" stroke="#1a3284" stroke-width="1.6"/><path d="M1.5 8 L5 5 V11 Z M13.5 8 L10 5 V11 Z" fill="#1a3284"/></svg>
<div class="r" style="left:1459px;top:978px;width:16px;height:16px;background:#e4e6ea;border:1px solid #fff;border-right-color:#a8a8a8;border-bottom-color:#a8a8a8"></div>
<svg style="left:1459px;top:978px" width="15" height="16" viewBox="0 0 15 16"><rect x="4.5" y="5.5" width="6" height="6" fill="#1a3284"/></svg>
<div class="r" style="left:1476px;top:978px;width:16px;height:16px;background:#e4e6ea;border:1px solid #fff;border-right-color:#a8a8a8;border-bottom-color:#a8a8a8"></div>
<svg style="left:1476px;top:978px" width="15" height="16" viewBox="0 0 15 16"><path d="M5 3 L11 8 L5 13 Z" fill="#1a3284"/></svg>
<div class="r" style="left:1492px;top:978px;width:16px;height:16px;background:#e4e6ea;border:1px solid #fff;border-right-color:#a8a8a8;border-bottom-color:#a8a8a8"></div>
<svg style="left:1492px;top:978px" width="15" height="16" viewBox="0 0 15 16"><text x="7.5" y="13.5" text-anchor="middle" font-family="Liberation Sans" font-weight="bold" font-size="14" fill="#333">D</text></svg>
<div class="r" style="left:1509px;top:978px;width:16px;height:16px;background:#e4e6ea;border:1px solid #fff;border-right-color:#a8a8a8;border-bottom-color:#a8a8a8"></div>
<svg style="left:1509px;top:978px" width="15" height="16" viewBox="0 0 15 16"><text x="7.5" y="13.5" text-anchor="middle" font-family="Liberation Sans" font-weight="bold" font-size="14" fill="#777">L</text></svg>
<div class="r" style="left:1526px;top:978px;width:16px;height:16px;background:#e4e6ea;border:1px solid #fff;border-right-color:#a8a8a8;border-bottom-color:#a8a8a8"></div>
<svg style="left:1526px;top:978px" width="15" height="16" viewBox="0 0 15 16"><text x="7.5" y="13.5" text-anchor="middle" font-family="Liberation Sans" font-weight="bold" font-size="14" fill="#333">R</text></svg>
<div class="r" style="left:1543px;top:978px;width:16px;height:16px;background:#e4e6ea;border:1px solid #fff;border-right-color:#a8a8a8;border-bottom-color:#a8a8a8"></div>
<svg style="left:1543px;top:978px" width="15" height="16" viewBox="0 0 15 16"><circle cx="6.5" cy="7" r="4.2" fill="#fff" stroke="#222" stroke-width="1.4"/><path d="M4.5 7 H8.5 M6.5 5 V9" stroke="#222" stroke-width="1.2"/><path d="M9.5 10 L13 13.5" stroke="#222" stroke-width="2"/></svg>
<div class="r" style="left:1560px;top:978px;width:16px;height:16px;background:#e4e6ea;border:1px solid #fff;border-right-color:#a8a8a8;border-bottom-color:#a8a8a8"></div>
<svg style="left:1560px;top:978px" width="15" height="16" viewBox="0 0 15 16"><path d="M3 3 L12 13 M12 3 L3 13" stroke="#222" stroke-width="2"/></svg>
<div class="r" style="left:1577px;top:978px;width:16px;height:16px;background:#e4e6ea;border:1px solid #fff;border-right-color:#a8a8a8;border-bottom-color:#a8a8a8"></div>
<svg style="left:1577px;top:978px" width="15" height="16" viewBox="0 0 15 16"><path d="M3 3 H5 V13 H3 Z M6 3 L12 8 L6 13 Z" fill="#1a3284"/></svg>
<div class="r" style="left:1509px;top:946px;width:1px;height:32px;background:#000;"></div>
<div class="r" style="left:7px;top:994px;width:1588px;height:22px;background:#fff;"></div>
<div class="r" style="left:7px;top:994px;width:1px;height:1px;background:#000;"></div>
<div class="r" style="left:6px;top:996px;width:1589px;height:1px;background:#000;"></div>
<div class="r" style="left:11px;top:995px;width:56px;height:21px;background:linear-gradient(#fcfcfc,#e6e6e6);border-right:1px solid #222;border-bottom:1px solid #222;box-shadow:inset 1px 0 0 #fff"></div>
<span class="t ui" style="left:13.00px;top:998.00px;transform:scaleX(0.9793);color:#000;font-weight:bold;font-size:13px">日経225</span>
<div class="r" style="left:1277px;top:996px;width:78px;height:20px;background:linear-gradient(#fbfbfb,#e0e0e0);border:1px solid #888;border-right-color:#222;border-bottom-color:#222"></div>
<span class="t ui" style="left:1284.00px;top:998.50px;transform:scaleX(0.9290);color:#111;font-size:13px">チャート追加</span>
<div class="r" style="left:1356px;top:996px;width:79px;height:20px;background:linear-gradient(#fbfbfb,#e0e0e0);border:1px solid #888;border-right-color:#222;border-bottom-color:#222"></div>
<span class="t ui" style="left:1364.00px;top:998.50px;transform:scaleX(0.9137);color:#111;font-size:13px">チャート削除</span>
<div class="r" style="left:1436px;top:996px;width:80px;height:20px;background:linear-gradient(#fbfbfb,#e0e0e0);border:1px solid #888;border-right-color:#222;border-bottom-color:#222"></div>
<span class="t ui" style="left:1451.00px;top:998.50px;transform:scaleX(0.9424);color:#111;font-size:13px">表示切替</span>
<div class="r" style="left:1517px;top:996px;width:79px;height:20px;background:linear-gradient(#fbfbfb,#e0e0e0);border:1px solid #888;border-right-color:#222;border-bottom-color:#222"></div>
<span class="t ui" style="left:1531.00px;top:998.50px;transform:scaleX(0.9424);color:#111;font-size:13px">画面設定</span>
<div class="r" style="left:9px;top:1028px;width:14px;height:14px;background:#fff;border:1px solid #000;border-right-color:#aaa;border-bottom-color:#aaa"></div>
<div class="r" style="left:29px;top:1024px;width:54px;height:23px;background:#1a1a1a;border:1px solid #666"></div>
<span class="t ui" style="left:33.95px;top:1027.50px;transform:scaleX(0.9039);color:#fff;font-size:13px">日経300</span>
<div class="r" style="left:83px;top:1023px;width:36px;height:24px;background:#fff;border:1px solid #2a2a2a;border-top-color:#555"></div>
<span class="t" style="left:83px;top:1027px;width:35px;text-align:center;font:13px 'Liberation Sans',sans-serif;color:#802040">0</span>
<div class="r" style="left:118px;top:1023px;width:37px;height:24px;background:#fff;border:1px solid #2a2a2a;border-top-color:#555"></div>
<span class="t" style="left:118px;top:1027px;width:36px;text-align:center;font:13px 'Liberation Sans',sans-serif;color:#d47aa8">23</span>
<div class="r" style="left:154px;top:1023px;width:36px;height:24px;background:#fff;border:1px solid #2a2a2a;border-top-color:#555"></div>
<span class="t" style="left:154px;top:1027px;width:35px;text-align:center;font:13px 'Liberation Sans',sans-serif;color:#111">5</span>
<div class="r" style="left:189px;top:1023px;width:36px;height:24px;background:#fff;border:1px solid #2a2a2a;border-top-color:#555"></div>
<span class="t" style="left:189px;top:1027px;width:35px;text-align:center;font:13px 'Liberation Sans',sans-serif;color:#2aa0d0">272</span>
<div class="r" style="left:224px;top:1023px;width:35px;height:24px;background:#fff;border:1px solid #2a2a2a;border-top-color:#555"></div>
<span class="t" style="left:224px;top:1027px;width:34px;text-align:center;font:13px 'Liberation Sans',sans-serif;color:#20208a">0</span>
<div class="r" style="left:262px;top:1022px;width:291px;height:25px;background:#fff;border-left:2px solid #555"></div>
<span class="t ui" style="left:261.89px;top:1027.50px;transform:scaleX(0.8581);color:#888;font-size:13px">[16:00]</span>
<span class="t ui" style="left:300.95px;top:1028.00px;transform:scaleX(0.9249);color:#111;font-size:13px">日経300</span>
<span class="t ui" style="left:372.97px;top:1028.00px;transform:scaleX(0.8580);color:#111;font-size:13px">157.04</span>
<svg style="left:428px;top:1028px" width="16" height="15" viewBox="0 0 16 15"><path d="M1 1 H15 L8 14 Z" fill="#1010e0"/></svg>
<span class="t ui" style="left:446.00px;top:1028.00px;transform:scaleX(0.8333);color:#2020b0;font-size:13px">4.68</span>
<span class="t ui" style="left:486.93px;top:1027.50px;transform:scaleX(0.9089);color:#2020b0;font-size:13px">( -2.89% )</span>
<div class="r" style="left:553px;top:1022px;width:21px;height:25px;background:#151515;"></div>
<div class="r" style="left:556px;top:1028px;width:14px;height:14px;background:linear-gradient(#ffffff,#dde4ee);border-radius:3px;border:1px solid #8a96a8"></div>
<svg style="left:556px;top:1028px" width="14" height="14" viewBox="0 0 14 14"><path d="M7 2 L12 7 H9 V12 H5 V7 H2 Z" fill="#4a5464"/></svg>
<div class="r" style="left:575px;top:1022px;width:1015px;height:25px;background:#fff;"></div>
<div class="r" style="left:1590px;top:1022px;width:37px;height:25px;background:#141414;"></div>
<div class="r" style="left:1593px;top:1028px;width:14px;height:14px;background:linear-gradient(#ffffff,#dde4ee);border-radius:3px;border:1px solid #8a96a8"></div>
<svg style="left:1593px;top:1028px" width="14" height="14" viewBox="0 0 14 14"><path d="M7 2 L12 7 H9 V12 H5 V7 H2 Z" fill="#4a5464"/></svg>
<div class="r" style="left:1609px;top:1028px;width:14px;height:14px;background:linear-gradient(#ffffff,#dde4ee);border-radius:3px;border:1px solid #8a96a8"></div>
<svg style="left:1609px;top:1028px" width="14" height="14" viewBox="0 0 14 14"><path d="M5 3 H9 M5 3 V12 M5 7 H8" stroke="#8890a0" stroke-width="1.5"/></svg>
</body></html>
